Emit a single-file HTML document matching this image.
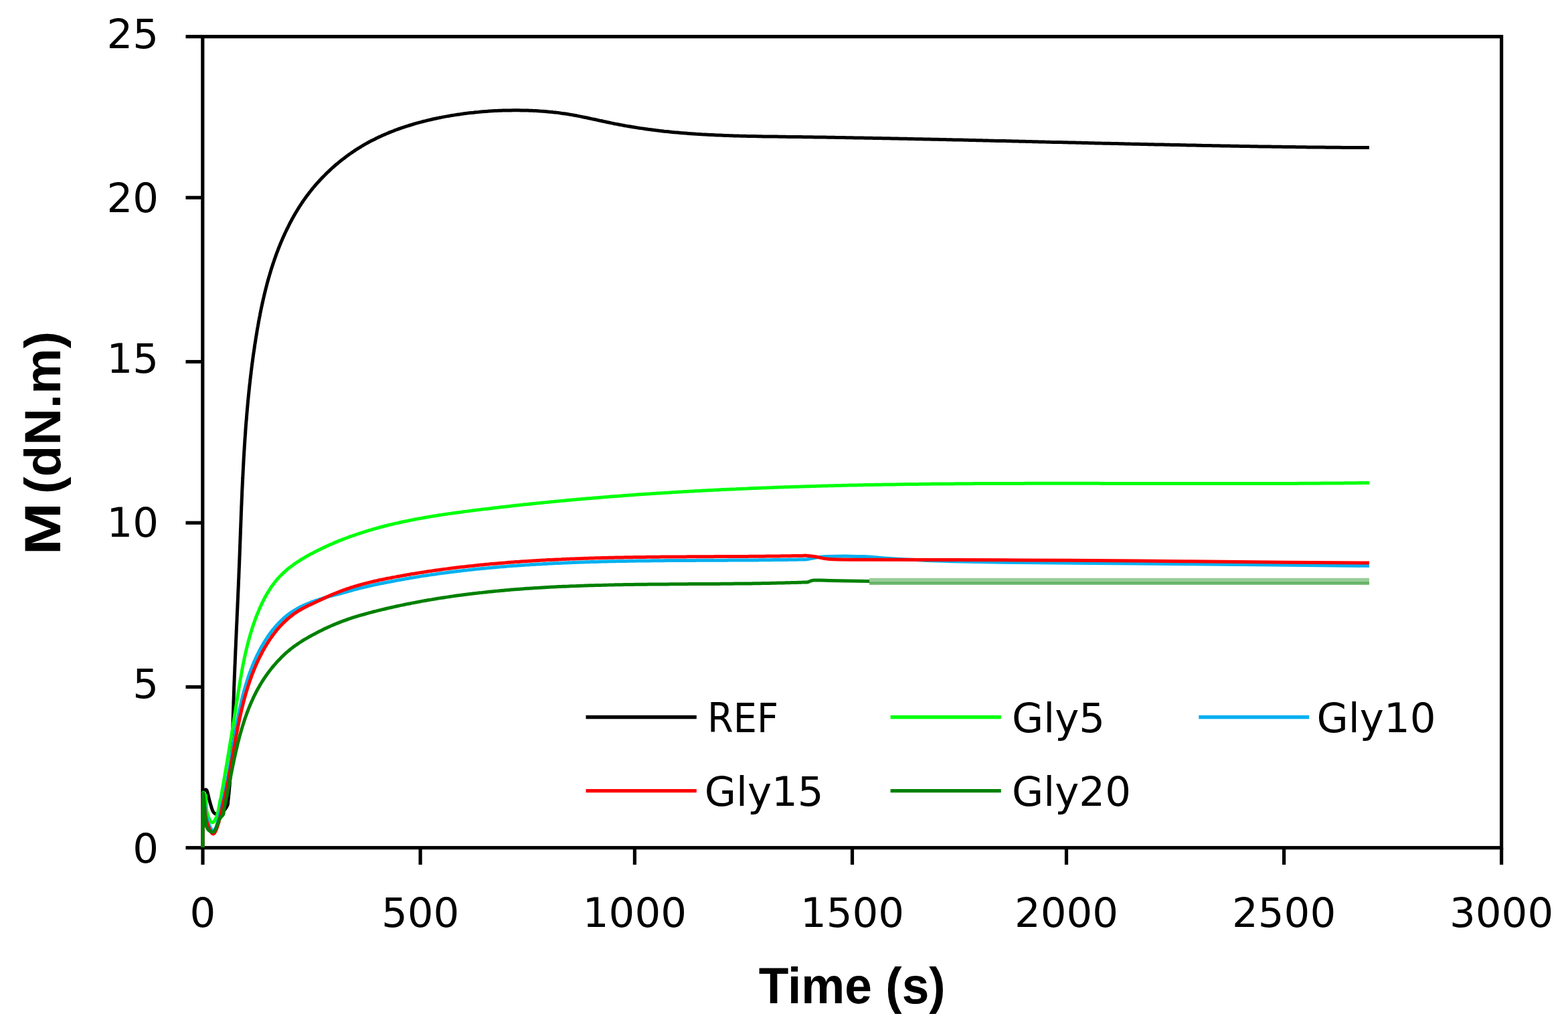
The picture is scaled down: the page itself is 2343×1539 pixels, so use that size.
<!DOCTYPE html>
<html><head><meta charset="utf-8"><title>Chart</title>
<style>html,body{margin:0;padding:0;background:#fff;overflow:hidden}svg{display:block}</style>
</head><body>
<svg width="2343" height="1539" viewBox="0 0 2343 1539"><rect x="0" y="0" width="2343" height="1539" fill="#fff"/><rect x="302.8" y="54.7" width="1940.8" height="1212.0" fill="none" stroke="#000" stroke-width="5.2"/><line x1="277.5" y1="54.7" x2="302.8" y2="54.7" stroke="#000" stroke-width="5.2"/><line x1="277.5" y1="295.3" x2="302.8" y2="295.3" stroke="#000" stroke-width="5.2"/><line x1="277.5" y1="540.5" x2="302.8" y2="540.5" stroke="#000" stroke-width="5.2"/><line x1="277.5" y1="781.2" x2="302.8" y2="781.2" stroke="#000" stroke-width="5.2"/><line x1="277.5" y1="1026.4" x2="302.8" y2="1026.4" stroke="#000" stroke-width="5.2"/><line x1="277.5" y1="1266.7" x2="302.8" y2="1266.7" stroke="#000" stroke-width="5.2"/><line x1="303.0" y1="1266.7" x2="303.0" y2="1292" stroke="#000" stroke-width="5.2"/><line x1="628.1" y1="1266.7" x2="628.1" y2="1292" stroke="#000" stroke-width="5.2"/><line x1="948.4" y1="1266.7" x2="948.4" y2="1292" stroke="#000" stroke-width="5.2"/><line x1="1273.5" y1="1266.7" x2="1273.5" y2="1292" stroke="#000" stroke-width="5.2"/><line x1="1593.5" y1="1266.7" x2="1593.5" y2="1292" stroke="#000" stroke-width="5.2"/><line x1="1918.6" y1="1266.7" x2="1918.6" y2="1292" stroke="#000" stroke-width="5.2"/><line x1="2243.6" y1="1266.7" x2="2243.6" y2="1292" stroke="#000" stroke-width="5.2"/><path d="M303.0,1266.0 C303.0,1253.3 303.0,1204.0 303.2,1190.0 C303.4,1176.0 303.0,1183.5 304.0,1182.0 C305.0,1180.5 307.5,1178.7 309.0,1181.0 C310.5,1183.3 311.5,1190.8 313.0,1196.0 C314.5,1201.2 316.3,1208.6 318.0,1212.0 C319.7,1215.4 321.0,1216.2 323.0,1216.5 C325.0,1216.8 327.8,1215.2 330.0,1214.0 C332.2,1212.8 334.3,1211.3 336.0,1209.5 C337.7,1207.7 339.2,1204.7 340.0,1203.0 C340.8,1201.3 340.4,1200.4 340.6,1199.0 C340.8,1197.7 340.9,1196.4 341.0,1195.1 C341.2,1193.7 341.3,1192.4 341.5,1191.1 C341.6,1189.7 341.7,1188.4 341.9,1187.1 C342.0,1185.8 342.1,1184.4 342.2,1183.1 C342.4,1181.8 342.5,1180.4 342.6,1179.1 C342.7,1177.8 342.8,1176.5 343.0,1175.1 C343.1,1173.8 343.2,1172.5 343.3,1171.1 C343.4,1169.8 343.5,1168.5 343.6,1167.1 C343.7,1165.8 343.8,1164.5 343.9,1163.1 C344.0,1161.8 344.1,1160.5 344.2,1159.1 C344.3,1157.8 344.4,1156.5 344.5,1155.2 C344.6,1153.8 344.7,1152.5 344.8,1151.2 C344.8,1149.8 344.9,1148.5 345.0,1147.2 C345.1,1145.8 345.2,1144.5 345.3,1143.2 C345.3,1141.8 345.4,1140.5 345.5,1139.2 C345.6,1137.8 345.6,1136.5 345.7,1135.2 C345.8,1133.8 345.8,1132.5 345.9,1131.2 C346.0,1129.8 346.1,1128.5 346.1,1127.2 C346.2,1125.8 346.2,1124.5 346.3,1123.2 C346.4,1121.8 346.4,1120.5 346.5,1119.1 C346.6,1117.8 346.6,1116.5 346.7,1115.1 C346.7,1113.8 346.8,1112.5 346.8,1111.1 C346.9,1109.8 347.0,1108.5 347.0,1107.1 C347.1,1105.8 347.1,1104.5 347.2,1103.1 C347.2,1101.8 347.3,1100.5 347.3,1099.1 C347.4,1097.8 347.4,1096.5 347.5,1095.1 C347.5,1093.8 347.6,1092.5 347.6,1091.1 C347.7,1089.8 347.7,1088.5 347.7,1087.1 C347.8,1085.8 347.8,1084.5 347.9,1083.1 C347.9,1081.8 348.0,1080.4 348.0,1079.1 C348.1,1077.8 348.1,1076.4 348.1,1075.1 C348.2,1073.8 348.2,1072.4 348.3,1071.1 C348.3,1069.8 348.4,1068.4 348.4,1067.1 C348.4,1065.8 348.5,1064.4 348.5,1063.1 C348.6,1061.8 348.6,1060.4 348.7,1059.1 C348.7,1057.8 348.7,1056.4 348.8,1055.1 C348.8,1053.8 348.9,1052.4 348.9,1051.1 C349.0,1049.7 349.0,1048.4 349.0,1047.1 C349.1,1045.7 349.1,1044.4 349.2,1043.1 C349.2,1041.7 349.3,1040.4 349.3,1039.1 C349.4,1037.7 349.4,1036.4 349.5,1035.1 C349.5,1033.7 349.6,1032.4 349.6,1031.1 C349.6,1029.7 349.7,1028.4 349.7,1027.1 C349.8,1025.7 349.8,1024.4 349.9,1023.1 C349.9,1021.7 350.0,1020.4 350.0,1019.1 C350.1,1017.7 350.1,1016.4 350.2,1015.0 C350.2,1013.7 350.3,1012.4 350.3,1011.0 C350.4,1009.7 350.5,1008.4 350.5,1007.0 C350.6,1005.7 350.6,1004.4 350.7,1003.0 C350.7,1001.7 350.8,1000.4 350.8,999.0 C350.9,997.7 350.9,996.4 351.0,995.0 C351.0,993.7 351.1,992.4 351.2,991.0 C351.2,989.7 351.3,988.4 351.3,987.0 C351.4,985.7 351.4,984.4 351.5,983.0 C351.5,981.7 351.6,980.4 351.7,979.0 C351.7,977.7 351.8,976.4 351.8,975.0 C351.9,973.7 351.9,972.3 352.0,971.0 C352.1,969.7 352.1,968.3 352.2,967.0 C352.2,965.7 352.3,964.3 352.4,963.0 C352.4,961.7 352.5,960.3 352.5,959.0 C352.6,957.7 352.6,956.3 352.7,955.0 C352.8,953.7 352.8,952.3 352.9,951.0 C352.9,949.7 353.0,948.3 353.1,947.0 C353.1,945.7 353.2,944.3 353.2,943.0 C353.3,941.7 353.4,940.3 353.4,939.0 C353.5,937.7 353.5,936.3 353.6,935.0 C353.7,933.7 353.7,932.3 353.8,931.0 C353.8,929.7 353.9,928.3 354.0,927.0 C354.0,925.7 354.1,924.3 354.1,923.0 C354.2,921.7 354.3,920.3 354.3,919.0 C354.4,917.6 354.4,916.3 354.5,915.0 C354.6,913.6 354.6,912.3 354.7,911.0 C354.7,909.6 354.8,908.3 354.9,907.0 C354.9,905.6 355.0,904.3 355.0,903.0 C355.1,901.6 355.2,900.3 355.2,899.0 C355.3,897.6 355.3,896.3 355.4,895.0 C355.4,893.6 355.5,892.3 355.6,891.0 C355.6,889.6 355.7,888.3 355.7,887.0 C355.8,885.6 355.9,884.3 355.9,883.0 C356.0,881.6 356.0,880.3 356.1,879.0 C356.1,877.6 356.2,876.3 356.3,875.0 C356.3,873.6 356.4,872.3 356.4,871.0 C356.5,869.6 356.5,868.3 356.6,866.9 C356.6,865.6 356.7,864.3 356.8,862.9 C356.8,861.6 356.9,860.3 356.9,858.9 C357.0,857.6 357.0,856.3 357.1,854.9 C357.1,853.6 357.2,852.3 357.2,850.9 C357.3,849.6 357.4,848.3 357.4,846.9 C357.5,845.6 357.5,844.3 357.6,842.9 C357.6,841.6 357.7,840.3 357.7,838.9 C357.8,837.6 357.8,836.3 357.9,834.9 C357.9,833.6 358.0,832.3 358.0,830.9 C358.1,829.6 358.1,828.3 358.2,826.9 C358.2,825.6 358.3,824.2 358.3,822.9 C358.4,821.6 358.4,820.2 358.5,818.9 C358.5,817.6 358.6,816.2 358.6,814.9 C358.7,813.6 358.7,812.2 358.8,810.9 C358.8,809.6 358.9,808.2 358.9,806.9 C359.0,805.6 359.0,804.2 359.1,802.9 C359.1,801.6 359.2,800.2 359.2,798.9 C359.3,797.6 359.3,796.2 359.4,794.9 C359.4,793.6 359.5,792.2 359.5,790.9 C359.6,789.5 359.6,788.2 359.7,786.9 C359.7,785.5 359.8,784.2 359.8,782.9 C359.9,781.5 359.9,780.2 360.0,778.9 C360.0,777.5 360.1,776.2 360.1,774.9 C360.2,773.5 360.2,772.2 360.3,770.9 C360.3,769.5 360.4,768.2 360.4,766.9 C360.5,765.5 360.5,764.2 360.6,762.9 C360.6,761.5 360.7,760.2 360.7,758.9 C360.8,757.5 360.8,756.2 360.9,754.9 C361.0,753.5 361.0,752.2 361.1,750.8 C361.1,749.5 361.2,748.2 361.2,746.8 C361.3,745.5 361.3,744.2 361.4,742.8 C361.5,741.5 361.5,740.2 361.6,738.8 C361.6,737.5 361.7,736.2 361.7,734.8 C361.8,733.5 361.9,732.2 361.9,730.8 C362.0,729.5 362.0,728.2 362.1,726.8 C362.2,725.5 362.2,724.2 362.3,722.8 C362.3,721.5 362.4,720.2 362.5,718.8 C362.5,717.5 362.6,716.2 362.7,714.8 C362.7,713.5 362.8,712.2 362.9,710.8 C362.9,709.5 363.0,708.2 363.1,706.8 C363.1,705.5 363.2,704.2 363.3,702.8 C363.3,701.5 363.4,700.2 363.5,698.8 C363.5,697.5 363.6,696.2 363.7,694.8 C363.8,693.5 363.8,692.2 363.9,690.8 C364.0,689.5 364.0,688.2 364.1,686.8 C364.2,685.5 364.3,684.2 364.3,682.8 C364.4,681.5 364.5,680.2 364.6,678.8 C364.7,677.5 364.7,676.2 364.8,674.8 C364.9,673.5 365.0,672.2 365.1,670.8 C365.1,669.5 365.2,668.2 365.3,666.8 C365.4,665.5 365.5,664.2 365.6,662.8 C365.7,661.5 365.7,660.2 365.8,658.8 C365.9,657.5 366.0,656.2 366.1,654.8 C366.2,653.5 366.3,652.2 366.4,650.8 C366.5,649.5 366.6,648.2 366.7,646.8 C366.7,645.5 366.8,644.2 366.9,642.8 C367.0,641.5 367.1,640.2 367.2,638.8 C367.3,637.5 367.4,636.2 367.5,634.8 C367.6,633.5 367.7,632.2 367.8,630.9 C367.9,629.5 368.1,628.2 368.2,626.9 C368.3,625.5 368.4,624.2 368.5,622.9 C368.6,621.5 368.7,620.2 368.8,618.9 C368.9,617.5 369.0,616.2 369.2,614.9 C369.3,613.6 369.4,612.2 369.5,610.9 C369.6,609.6 369.7,608.2 369.9,606.9 C370.0,605.6 370.1,604.2 370.2,602.9 C370.3,601.6 370.5,600.3 370.6,598.9 C370.7,597.6 370.9,596.3 371.0,594.9 C371.1,593.6 371.2,592.3 371.4,590.9 C371.5,589.6 371.6,588.3 371.8,587.0 C371.9,585.6 372.0,584.3 372.2,583.0 C372.3,581.6 372.5,580.3 372.6,579.0 C372.7,577.7 372.9,576.3 373.0,575.0 C373.2,573.7 373.3,572.4 373.5,571.0 C373.6,569.7 373.8,568.4 373.9,567.0 C374.1,565.7 374.2,564.4 374.4,563.1 C374.5,561.7 374.7,560.4 374.9,559.1 C375.0,557.8 375.2,556.4 375.3,555.1 C375.5,553.8 375.7,552.5 375.8,551.1 C376.0,549.8 376.2,548.5 376.3,547.2 C376.5,545.8 376.7,544.5 376.8,543.2 C377.0,541.9 377.2,540.5 377.4,539.2 C377.5,537.9 377.7,536.6 377.9,535.2 C378.1,533.9 378.3,532.6 378.4,531.3 C378.6,529.9 378.8,528.6 379.0,527.3 C379.2,526.0 379.4,524.7 379.6,523.3 C379.8,522.0 380.0,520.7 380.2,519.4 C380.4,518.1 380.5,516.7 380.7,515.4 C380.9,514.1 381.2,512.8 381.4,511.5 C381.6,510.1 381.8,508.8 382.0,507.5 C382.2,506.2 382.4,504.9 382.6,503.5 C382.8,502.2 383.0,500.9 383.3,499.6 C383.5,498.3 383.7,496.9 383.9,495.6 C384.1,494.3 384.4,493.0 384.6,491.7 C384.8,490.4 385.0,489.0 385.3,487.7 C385.5,486.4 385.7,485.1 386.0,483.8 C386.2,482.5 386.4,481.2 386.7,479.8 C386.9,478.5 387.2,477.2 387.4,475.9 C387.7,474.6 387.9,473.3 388.2,472.0 C388.4,470.7 388.7,469.4 388.9,468.0 C389.2,466.7 389.5,465.4 389.7,464.1 C390.0,462.8 390.3,461.5 390.5,460.2 C390.8,458.9 391.1,457.6 391.4,456.3 C391.6,455.0 391.9,453.7 392.2,452.4 C392.5,451.1 392.8,449.7 393.1,448.4 C393.4,447.1 393.7,445.8 394.0,444.5 C394.3,443.2 394.6,441.9 394.9,440.6 C395.2,439.3 395.5,438.0 395.8,436.7 C396.2,435.4 396.5,434.1 396.8,432.9 C397.1,431.6 397.5,430.3 397.8,429.0 C398.1,427.7 398.5,426.4 398.8,425.1 C399.1,423.8 399.5,422.5 399.8,421.2 C400.2,419.9 400.5,418.6 400.9,417.4 C401.3,416.1 401.6,414.8 402.0,413.5 C402.4,412.2 402.7,410.9 403.1,409.7 C403.5,408.4 403.9,407.1 404.3,405.8 C404.7,404.5 405.0,403.3 405.4,402.0 C405.8,400.7 406.2,399.4 406.7,398.2 C407.1,396.9 407.5,395.6 407.9,394.4 C408.3,393.1 408.7,391.8 409.2,390.6 C409.6,389.3 410.0,388.0 410.5,386.8 C410.9,385.5 411.4,384.3 411.8,383.0 C412.3,381.7 412.7,380.5 413.2,379.2 C413.6,378.0 414.1,376.7 414.6,375.5 C415.1,374.2 415.5,373.0 416.0,371.7 C416.5,370.5 417.0,369.3 417.5,368.0 C418.0,366.8 418.5,365.5 419.0,364.3 C419.5,363.1 420.0,361.8 420.5,360.6 C421.1,359.4 421.6,358.2 422.1,356.9 C422.7,355.7 423.2,354.5 423.7,353.3 C424.3,352.0 424.8,350.8 425.4,349.6 C425.9,348.4 426.5,347.2 427.1,346.0 C427.7,344.8 428.2,343.6 428.8,342.4 C429.4,341.2 430.0,340.0 430.6,338.8 C431.2,337.6 431.8,336.4 432.4,335.2 C433.0,334.0 433.6,332.8 434.2,331.6 C434.9,330.5 435.5,329.3 436.1,328.1 C436.8,326.9 437.4,325.8 438.1,324.6 C438.7,323.4 439.4,322.3 440.0,321.1 C440.7,320.0 441.4,318.8 442.0,317.6 C442.7,316.5 443.4,315.4 444.1,314.2 C444.8,313.1 445.5,311.9 446.2,310.8 C446.9,309.7 447.6,308.5 448.4,307.4 C449.1,306.3 449.8,305.2 450.5,304.1 C451.3,303.0 452.0,301.8 452.8,300.7 C453.5,299.6 454.3,298.5 455.1,297.5 C455.8,296.4 456.6,295.3 457.4,294.2 C458.2,293.1 459.0,292.1 459.8,291.0 C460.6,289.9 461.4,288.9 462.2,287.8 C463.1,286.7 463.9,285.7 464.7,284.7 C465.5,283.6 466.4,282.6 467.2,281.5 C468.1,280.5 468.9,279.5 469.8,278.5 C470.7,277.5 471.6,276.4 472.4,275.4 C473.3,274.4 474.2,273.4 475.1,272.4 C476.0,271.5 476.9,270.5 477.8,269.5 C478.7,268.5 479.6,267.5 480.5,266.6 C481.5,265.6 482.4,264.6 483.3,263.7 C484.3,262.7 485.2,261.8 486.1,260.8 C487.1,259.9 488.0,259.0 489.0,258.0 C490.0,257.1 490.9,256.2 491.9,255.3 C492.9,254.4 493.9,253.4 494.8,252.5 C495.8,251.6 496.8,250.8 497.8,249.9 C498.8,249.0 499.8,248.1 500.8,247.2 C501.8,246.3 502.8,245.5 503.9,244.6 C504.9,243.8 505.9,242.9 507.0,242.1 C508.0,241.2 509.0,240.4 510.1,239.5 C511.1,238.7 512.2,237.9 513.2,237.1 C514.3,236.3 515.3,235.5 516.4,234.7 C517.5,233.9 518.6,233.1 519.6,232.3 C520.7,231.5 521.8,230.7 522.9,229.9 C524.0,229.2 525.1,228.4 526.2,227.7 C527.3,226.9 528.4,226.1 529.5,225.4 C530.6,224.7 531.7,223.9 532.9,223.2 C534.0,222.5 535.1,221.8 536.2,221.1 C537.4,220.4 538.5,219.7 539.7,219.0 C540.8,218.3 542.0,217.6 543.1,216.9 C544.3,216.3 545.4,215.6 546.6,214.9 C547.7,214.3 548.9,213.6 550.1,213.0 C551.3,212.4 552.4,211.7 553.6,211.1 C554.8,210.5 556.0,209.9 557.2,209.3 C558.4,208.7 559.6,208.1 560.8,207.5 C562.0,206.9 563.2,206.3 564.4,205.7 C565.6,205.1 566.8,204.6 568.0,204.0 C569.2,203.5 570.4,202.9 571.6,202.4 C572.8,201.8 574.1,201.3 575.3,200.7 C576.5,200.2 577.8,199.7 579.0,199.2 C580.2,198.7 581.5,198.1 582.7,197.6 C583.9,197.1 585.2,196.7 586.4,196.2 C587.7,195.7 588.9,195.2 590.2,194.7 C591.4,194.3 592.7,193.8 593.9,193.3 C595.2,192.9 596.4,192.4 597.7,192.0 C598.9,191.5 600.2,191.1 601.5,190.7 C602.7,190.2 604.0,189.8 605.3,189.4 C606.5,189.0 607.8,188.6 609.1,188.2 C610.3,187.8 611.6,187.4 612.9,187.0 C614.2,186.6 615.5,186.2 616.7,185.8 C618.0,185.4 619.3,185.1 620.6,184.7 C621.9,184.3 623.2,184.0 624.4,183.6 C625.7,183.2 627.0,182.9 628.3,182.6 C629.6,182.2 630.9,181.9 632.2,181.5 C633.5,181.2 634.8,180.9 636.1,180.6 C637.4,180.2 638.7,179.9 640.0,179.6 C641.3,179.3 642.6,179.0 643.9,178.7 C645.2,178.4 646.5,178.1 647.8,177.8 C649.1,177.5 650.4,177.2 651.7,177.0 C653.0,176.7 654.3,176.4 655.6,176.1 C656.9,175.9 658.2,175.6 659.5,175.4 C660.8,175.1 662.2,174.8 663.5,174.6 C664.8,174.3 666.1,174.1 667.4,173.9 C668.7,173.6 670.0,173.4 671.3,173.2 C672.7,172.9 674.0,172.7 675.3,172.5 C676.6,172.3 677.9,172.1 679.3,171.9 C680.6,171.6 681.9,171.4 683.2,171.2 C684.5,171.0 685.9,170.8 687.2,170.7 C688.5,170.5 689.8,170.3 691.1,170.1 C692.5,169.9 693.8,169.7 695.1,169.6 C696.4,169.4 697.8,169.2 699.1,169.1 C700.4,168.9 701.7,168.7 703.1,168.6 C704.4,168.4 705.7,168.3 707.1,168.2 C708.4,168.0 709.7,167.9 711.0,167.7 C712.4,167.6 713.7,167.5 715.0,167.4 C716.4,167.2 717.7,167.1 719.0,167.0 C720.3,166.9 721.7,166.8 723.0,166.7 C724.3,166.6 725.7,166.5 727.0,166.4 C728.3,166.3 729.7,166.2 731.0,166.1 C732.3,166.0 733.7,165.9 735.0,165.8 C736.3,165.8 737.7,165.7 739.0,165.6 C740.3,165.5 741.7,165.5 743.0,165.4 C744.3,165.4 745.7,165.3 747.0,165.3 C748.3,165.2 749.7,165.2 751.0,165.1 C752.3,165.1 753.7,165.0 755.0,165.0 C756.3,165.0 757.7,164.9 759.0,164.9 C760.4,164.9 761.7,164.9 763.0,164.9 C764.4,164.8 765.7,164.8 767.0,164.8 C768.4,164.8 769.7,164.8 771.0,164.8 C772.4,164.8 773.7,164.8 775.0,164.8 C776.4,164.8 777.7,164.8 779.0,164.9 C780.4,164.9 781.7,164.9 783.1,164.9 C784.4,165.0 785.7,165.0 787.1,165.0 C788.4,165.1 789.7,165.1 791.1,165.2 C792.4,165.2 793.7,165.3 795.1,165.3 C796.4,165.4 797.7,165.4 799.1,165.5 C800.4,165.6 801.7,165.6 803.1,165.7 C804.4,165.8 805.7,165.9 807.1,166.0 C808.4,166.0 809.7,166.1 811.1,166.2 C812.4,166.3 813.7,166.4 815.1,166.5 C816.4,166.7 817.7,166.8 819.1,166.9 C820.4,167.0 821.7,167.1 823.0,167.3 C824.4,167.4 825.7,167.5 827.0,167.7 C828.4,167.8 829.7,168.0 831.0,168.1 C832.3,168.3 833.7,168.5 835.0,168.6 C836.3,168.8 837.6,169.0 839.0,169.2 C840.3,169.3 841.6,169.5 842.9,169.7 C844.2,169.9 845.6,170.1 846.9,170.3 C848.2,170.5 849.5,170.7 850.8,171.0 C852.2,171.2 853.5,171.4 854.8,171.6 C856.1,171.9 857.4,172.1 858.7,172.4 C860.0,172.6 861.4,172.8 862.7,173.1 C864.0,173.3 865.3,173.6 866.6,173.9 C867.9,174.1 869.2,174.4 870.5,174.7 C871.8,174.9 873.1,175.2 874.4,175.5 C875.8,175.7 877.1,176.0 878.4,176.3 C879.7,176.6 881.0,176.8 882.3,177.1 C883.6,177.4 884.9,177.7 886.2,178.0 C887.5,178.2 888.8,178.5 890.1,178.8 C891.4,179.1 892.7,179.4 894.0,179.7 C895.3,180.0 896.6,180.2 897.9,180.5 C899.3,180.8 900.6,181.1 901.9,181.4 C903.2,181.7 904.5,181.9 905.8,182.2 C907.1,182.5 908.4,182.8 909.7,183.0 C911.0,183.3 912.3,183.6 913.6,183.9 C914.9,184.1 916.2,184.4 917.5,184.7 C918.9,184.9 920.2,185.2 921.5,185.4 C922.8,185.7 924.1,185.9 925.4,186.2 C926.7,186.4 928.0,186.7 929.3,186.9 C930.7,187.2 932.0,187.4 933.3,187.7 C934.6,187.9 935.9,188.1 937.2,188.4 C938.5,188.6 939.9,188.8 941.2,189.0 C942.5,189.3 943.8,189.5 945.1,189.7 C946.5,189.9 947.8,190.1 949.1,190.3 C950.4,190.5 951.7,190.8 953.0,191.0 C954.4,191.2 955.7,191.4 957.0,191.6 C958.3,191.8 959.6,192.0 961.0,192.1 C962.3,192.3 963.6,192.5 964.9,192.7 C966.3,192.9 967.6,193.1 968.9,193.3 C970.2,193.4 971.6,193.6 972.9,193.8 C974.2,194.0 975.5,194.1 976.9,194.3 C978.2,194.5 979.5,194.6 980.8,194.8 C982.2,194.9 983.5,195.1 984.8,195.3 C986.1,195.4 987.5,195.6 988.8,195.7 C990.1,195.9 991.4,196.0 992.8,196.2 C994.1,196.3 995.4,196.4 996.8,196.6 C998.1,196.7 999.4,196.9 1000.7,197.0 C1002.1,197.1 1003.4,197.3 1004.7,197.4 C1006.1,197.5 1007.4,197.6 1008.7,197.8 C1010.0,197.9 1011.4,198.0 1012.7,198.1 C1014.0,198.2 1015.4,198.4 1016.7,198.5 C1018.0,198.6 1019.4,198.7 1020.7,198.8 C1022.0,198.9 1023.4,199.0 1024.7,199.1 C1026.0,199.2 1027.3,199.3 1028.7,199.4 C1030.0,199.5 1031.3,199.6 1032.7,199.7 C1034.0,199.8 1035.3,199.9 1036.7,200.0 C1038.0,200.1 1039.3,200.2 1040.7,200.3 C1042.0,200.3 1043.3,200.4 1044.7,200.5 C1046.0,200.6 1047.3,200.7 1048.7,200.8 C1050.0,200.8 1051.3,200.9 1052.7,201.0 C1054.0,201.1 1055.3,201.1 1056.7,201.2 C1058.0,201.3 1059.3,201.3 1060.7,201.4 C1062.0,201.5 1063.3,201.5 1064.7,201.6 C1066.0,201.7 1067.3,201.7 1068.7,201.8 C1070.0,201.9 1071.3,201.9 1072.7,202.0 C1074.0,202.0 1075.3,202.1 1076.7,202.1 C1078.0,202.2 1079.3,202.2 1080.7,202.3 C1082.0,202.4 1083.3,202.4 1084.7,202.5 C1086.0,202.5 1087.4,202.5 1088.7,202.6 C1090.0,202.6 1091.4,202.7 1092.7,202.7 C1094.0,202.8 1095.4,202.8 1096.7,202.9 C1098.0,202.9 1099.4,202.9 1100.7,203.0 C1102.0,203.0 1103.4,203.0 1104.7,203.1 C1106.0,203.1 1107.4,203.2 1108.7,203.2 C1110.0,203.2 1111.4,203.3 1112.7,203.3 C1114.0,203.3 1115.4,203.4 1116.7,203.4 C1118.1,203.4 1119.4,203.4 1120.7,203.5 C1122.1,203.5 1123.4,203.5 1124.7,203.6 C1126.1,203.6 1127.4,203.6 1128.7,203.6 C1130.1,203.7 1131.4,203.7 1132.7,203.7 C1134.1,203.7 1135.4,203.8 1136.7,203.8 C1138.1,203.8 1139.4,203.8 1140.8,203.9 C1142.1,203.9 1143.4,203.9 1144.8,203.9 C1146.1,203.9 1147.4,204.0 1148.8,204.0 C1150.1,204.0 1151.4,204.0 1152.8,204.0 C1154.1,204.1 1155.4,204.1 1156.8,204.1 C1158.1,204.1 1159.4,204.1 1160.8,204.1 C1162.1,204.2 1163.5,204.2 1164.8,204.2 C1166.1,204.2 1167.5,204.2 1168.8,204.3 C1170.1,204.3 1171.5,204.3 1172.8,204.3 C1174.1,204.3 1175.5,204.3 1176.8,204.4 C1178.1,204.4 1179.5,204.4 1180.8,204.4 C1182.1,204.4 1183.5,204.4 1184.8,204.5 C1186.2,204.5 1187.5,204.5 1188.8,204.5 C1190.2,204.5 1191.5,204.5 1192.8,204.6 C1194.2,204.6 1195.5,204.6 1196.8,204.6 C1198.2,204.6 1199.5,204.6 1200.8,204.7 C1202.2,204.7 1203.5,204.7 1204.9,204.7 C1206.2,204.7 1207.5,204.8 1208.9,204.8 C1210.2,204.8 1211.5,204.8 1212.9,204.8 C1214.2,204.9 1215.5,204.9 1216.9,204.9 C1218.2,204.9 1219.5,204.9 1220.9,205.0 C1222.2,205.0 1223.5,205.0 1224.9,205.0 C1226.2,205.0 1227.6,205.1 1228.9,205.1 C1230.2,205.1 1231.6,205.1 1232.9,205.1 C1234.2,205.2 1235.6,205.2 1236.9,205.2 C1238.2,205.2 1239.6,205.2 1240.9,205.3 C1242.2,205.3 1243.6,205.3 1244.9,205.3 C1246.2,205.3 1247.6,205.4 1248.9,205.4 C1250.3,205.4 1251.6,205.4 1252.9,205.5 C1254.3,205.5 1255.6,205.5 1256.9,205.5 C1258.3,205.5 1259.6,205.6 1260.9,205.6 C1262.3,205.6 1263.6,205.6 1264.9,205.7 C1266.3,205.7 1267.6,205.7 1268.9,205.7 C1270.3,205.7 1271.6,205.8 1273.0,205.8 C1274.3,205.8 1275.6,205.8 1277.0,205.9 C1278.3,205.9 1279.6,205.9 1281.0,205.9 C1282.3,206.0 1283.6,206.0 1285.0,206.0 C1286.3,206.0 1287.6,206.1 1289.0,206.1 C1290.3,206.1 1291.6,206.1 1293.0,206.2 C1294.3,206.2 1295.7,206.2 1297.0,206.2 C1298.3,206.3 1299.7,206.3 1301.0,206.3 C1302.3,206.3 1303.7,206.4 1305.0,206.4 C1306.3,206.4 1307.7,206.4 1309.0,206.5 C1310.3,206.5 1311.7,206.5 1313.0,206.5 C1314.3,206.6 1315.7,206.6 1317.0,206.6 C1318.3,206.6 1319.7,206.7 1321.0,206.7 C1322.4,206.7 1323.7,206.7 1325.0,206.8 C1326.4,206.8 1327.7,206.8 1329.0,206.8 C1330.4,206.9 1331.7,206.9 1333.0,206.9 C1334.4,206.9 1335.7,207.0 1337.0,207.0 C1338.4,207.0 1339.7,207.1 1341.0,207.1 C1342.4,207.1 1343.7,207.1 1345.1,207.2 C1346.4,207.2 1347.7,207.2 1349.1,207.2 C1350.4,207.3 1351.7,207.3 1353.1,207.3 C1354.4,207.3 1355.7,207.4 1357.1,207.4 C1358.4,207.4 1359.7,207.5 1361.1,207.5 C1362.4,207.5 1363.7,207.5 1365.1,207.6 C1366.4,207.6 1367.8,207.6 1369.1,207.7 C1370.4,207.7 1371.8,207.7 1373.1,207.7 C1374.4,207.8 1375.8,207.8 1377.1,207.8 C1378.4,207.9 1379.8,207.9 1381.1,207.9 C1382.4,207.9 1383.8,208.0 1385.1,208.0 C1386.4,208.0 1387.8,208.1 1389.1,208.1 C1390.5,208.1 1391.8,208.1 1393.1,208.2 C1394.5,208.2 1395.8,208.2 1397.1,208.3 C1398.5,208.3 1399.8,208.3 1401.1,208.3 C1402.5,208.4 1403.8,208.4 1405.1,208.4 C1406.5,208.5 1407.8,208.5 1409.1,208.5 C1410.5,208.5 1411.8,208.6 1413.1,208.6 C1414.5,208.6 1415.8,208.7 1417.2,208.7 C1418.5,208.7 1419.8,208.8 1421.2,208.8 C1422.5,208.8 1423.8,208.8 1425.2,208.9 C1426.5,208.9 1427.8,208.9 1429.2,209.0 C1430.5,209.0 1431.8,209.0 1433.2,209.1 C1434.5,209.1 1435.8,209.1 1437.2,209.1 C1438.5,209.2 1439.9,209.2 1441.2,209.2 C1442.5,209.3 1443.9,209.3 1445.2,209.3 C1446.5,209.4 1447.9,209.4 1449.2,209.4 C1450.5,209.5 1451.9,209.5 1453.2,209.5 C1454.5,209.5 1455.9,209.6 1457.2,209.6 C1458.5,209.6 1459.9,209.7 1461.2,209.7 C1462.5,209.7 1463.9,209.8 1465.2,209.8 C1466.6,209.8 1467.9,209.9 1469.2,209.9 C1470.6,209.9 1471.9,209.9 1473.2,210.0 C1474.6,210.0 1475.9,210.0 1477.2,210.1 C1478.6,210.1 1479.9,210.1 1481.2,210.2 C1482.6,210.2 1483.9,210.2 1485.2,210.3 C1486.6,210.3 1487.9,210.3 1489.2,210.4 C1490.6,210.4 1491.9,210.4 1493.3,210.4 C1494.6,210.5 1495.9,210.5 1497.3,210.5 C1498.6,210.6 1499.9,210.6 1501.3,210.6 C1502.6,210.7 1503.9,210.7 1505.3,210.7 C1506.6,210.8 1507.9,210.8 1509.3,210.8 C1510.6,210.9 1511.9,210.9 1513.3,210.9 C1514.6,211.0 1516.0,211.0 1517.3,211.0 C1518.6,211.1 1520.0,211.1 1521.3,211.1 C1522.6,211.1 1524.0,211.2 1525.3,211.2 C1526.6,211.2 1528.0,211.3 1529.3,211.3 C1530.6,211.3 1532.0,211.4 1533.3,211.4 C1534.6,211.4 1536.0,211.5 1537.3,211.5 C1538.6,211.5 1540.0,211.6 1541.3,211.6 C1542.7,211.6 1544.0,211.7 1545.3,211.7 C1546.7,211.7 1548.0,211.8 1549.3,211.8 C1550.7,211.8 1552.0,211.8 1553.3,211.9 C1554.7,211.9 1556.0,211.9 1557.3,212.0 C1558.7,212.0 1560.0,212.0 1561.3,212.1 C1562.7,212.1 1564.0,212.1 1565.4,212.2 C1566.7,212.2 1568.0,212.2 1569.4,212.3 C1570.7,212.3 1572.0,212.3 1573.4,212.4 C1574.7,212.4 1576.0,212.4 1577.4,212.5 C1578.7,212.5 1580.0,212.5 1581.4,212.5 C1582.7,212.6 1584.0,212.6 1585.4,212.6 C1586.7,212.7 1588.0,212.7 1589.4,212.7 C1590.7,212.8 1592.1,212.8 1593.4,212.8 C1594.7,212.9 1596.1,212.9 1597.4,212.9 C1598.7,213.0 1600.1,213.0 1601.4,213.0 C1602.7,213.1 1604.1,213.1 1605.4,213.1 C1606.7,213.2 1608.1,213.2 1609.4,213.2 C1610.7,213.2 1612.1,213.3 1613.4,213.3 C1614.7,213.3 1616.1,213.4 1617.4,213.4 C1618.8,213.4 1620.1,213.5 1621.4,213.5 C1622.8,213.5 1624.1,213.6 1625.4,213.6 C1626.8,213.6 1628.1,213.7 1629.4,213.7 C1630.8,213.7 1632.1,213.8 1633.4,213.8 C1634.8,213.8 1636.1,213.8 1637.4,213.9 C1638.8,213.9 1640.1,213.9 1641.5,214.0 C1642.8,214.0 1644.1,214.0 1645.5,214.1 C1646.8,214.1 1648.1,214.1 1649.5,214.2 C1650.8,214.2 1652.1,214.2 1653.5,214.3 C1654.8,214.3 1656.1,214.3 1657.5,214.3 C1658.8,214.4 1660.1,214.4 1661.5,214.4 C1662.8,214.5 1664.1,214.5 1665.5,214.5 C1666.8,214.6 1668.2,214.6 1669.5,214.6 C1670.8,214.7 1672.2,214.7 1673.5,214.7 C1674.8,214.7 1676.2,214.8 1677.5,214.8 C1678.8,214.8 1680.2,214.9 1681.5,214.9 C1682.8,214.9 1684.2,215.0 1685.5,215.0 C1686.8,215.0 1688.2,215.0 1689.5,215.1 C1690.9,215.1 1692.2,215.1 1693.5,215.2 C1694.9,215.2 1696.2,215.2 1697.5,215.3 C1698.9,215.3 1700.2,215.3 1701.5,215.3 C1702.9,215.4 1704.2,215.4 1705.5,215.4 C1706.9,215.5 1708.2,215.5 1709.5,215.5 C1710.9,215.6 1712.2,215.6 1713.5,215.6 C1714.9,215.6 1716.2,215.7 1717.6,215.7 C1718.9,215.7 1720.2,215.8 1721.6,215.8 C1722.9,215.8 1724.2,215.9 1725.6,215.9 C1726.9,215.9 1728.2,215.9 1729.6,216.0 C1730.9,216.0 1732.2,216.0 1733.6,216.1 C1734.9,216.1 1736.2,216.1 1737.6,216.1 C1738.9,216.2 1740.3,216.2 1741.6,216.2 C1742.9,216.3 1744.3,216.3 1745.6,216.3 C1746.9,216.3 1748.3,216.4 1749.6,216.4 C1750.9,216.4 1752.3,216.5 1753.6,216.5 C1754.9,216.5 1756.3,216.5 1757.6,216.6 C1758.9,216.6 1760.3,216.6 1761.6,216.6 C1762.9,216.7 1764.3,216.7 1765.6,216.7 C1767.0,216.8 1768.3,216.8 1769.6,216.8 C1771.0,216.8 1772.3,216.9 1773.6,216.9 C1775.0,216.9 1776.3,216.9 1777.6,217.0 C1779.0,217.0 1780.3,217.0 1781.6,217.1 C1783.0,217.1 1784.3,217.1 1785.6,217.1 C1787.0,217.2 1788.3,217.2 1789.7,217.2 C1791.0,217.2 1792.3,217.3 1793.7,217.3 C1795.0,217.3 1796.3,217.3 1797.7,217.4 C1799.0,217.4 1800.3,217.4 1801.7,217.4 C1803.0,217.5 1804.3,217.5 1805.7,217.5 C1807.0,217.6 1808.3,217.6 1809.7,217.6 C1811.0,217.6 1812.4,217.7 1813.7,217.7 C1815.0,217.7 1816.4,217.7 1817.7,217.8 C1819.0,217.8 1820.4,217.8 1821.7,217.8 C1823.0,217.9 1824.4,217.9 1825.7,217.9 C1827.0,217.9 1828.4,218.0 1829.7,218.0 C1831.0,218.0 1832.4,218.0 1833.7,218.0 C1835.1,218.1 1836.4,218.1 1837.7,218.1 C1839.1,218.1 1840.4,218.2 1841.7,218.2 C1843.1,218.2 1844.4,218.2 1845.7,218.3 C1847.1,218.3 1848.4,218.3 1849.7,218.3 C1851.1,218.4 1852.4,218.4 1853.7,218.4 C1855.1,218.4 1856.4,218.4 1857.8,218.5 C1859.1,218.5 1860.4,218.5 1861.8,218.5 C1863.1,218.6 1864.4,218.6 1865.8,218.6 C1867.1,218.6 1868.4,218.6 1869.8,218.7 C1871.1,218.7 1872.4,218.7 1873.8,218.7 C1875.1,218.8 1876.4,218.8 1877.8,218.8 C1879.1,218.8 1880.5,218.8 1881.8,218.9 C1883.1,218.9 1884.5,218.9 1885.8,218.9 C1887.1,218.9 1888.5,219.0 1889.8,219.0 C1891.1,219.0 1892.5,219.0 1893.8,219.0 C1895.1,219.1 1896.5,219.1 1897.8,219.1 C1899.1,219.1 1900.5,219.1 1901.8,219.2 C1903.2,219.2 1904.5,219.2 1905.8,219.2 C1907.2,219.2 1908.5,219.3 1909.8,219.3 C1911.2,219.3 1912.5,219.3 1913.8,219.3 C1915.2,219.4 1916.5,219.4 1917.8,219.4 C1919.2,219.4 1920.5,219.4 1921.8,219.4 C1923.2,219.5 1924.5,219.5 1925.9,219.5 C1927.2,219.5 1928.5,219.5 1929.9,219.6 C1931.2,219.6 1932.5,219.6 1933.9,219.6 C1935.2,219.6 1936.5,219.6 1937.9,219.7 C1939.2,219.7 1940.5,219.7 1941.9,219.7 C1943.2,219.7 1944.5,219.7 1945.9,219.8 C1947.2,219.8 1948.6,219.8 1949.9,219.8 C1951.2,219.8 1952.6,219.8 1953.9,219.9 C1955.2,219.9 1956.6,219.9 1957.9,219.9 C1959.2,219.9 1960.6,219.9 1961.9,219.9 C1963.2,220.0 1964.6,220.0 1965.9,220.0 C1967.2,220.0 1968.6,220.0 1969.9,220.0 C1971.3,220.0 1972.6,220.1 1973.9,220.1 C1975.3,220.1 1976.6,220.1 1977.9,220.1 C1979.3,220.1 1980.6,220.1 1981.9,220.2 C1983.3,220.2 1984.6,220.2 1985.9,220.2 C1987.3,220.2 1988.6,220.2 1990.0,220.2 C1991.3,220.2 1992.6,220.3 1994.0,220.3 C1995.3,220.3 1996.6,220.3 1998.0,220.3 C1999.3,220.3 2000.6,220.3 2002.0,220.3 C2003.3,220.4 2004.6,220.4 2006.0,220.4 C2007.3,220.4 2008.6,220.4 2010.0,220.4 C2011.3,220.4 2012.7,220.4 2014.0,220.4 C2015.3,220.4 2016.7,220.5 2018.0,220.5 C2019.3,220.5 2020.7,220.5 2022.0,220.5 C2023.3,220.5 2024.7,220.5 2026.0,220.5 C2027.3,220.5 2028.7,220.5 2030.0,220.6 C2031.4,220.6 2032.7,220.6 2034.0,220.6 C2035.4,220.6 2036.7,220.6 2038.0,220.6 C2039.4,220.6 2040.7,220.6 2042.0,220.6 C2043.4,220.6 2045.4,220.6 2046.0,220.6" fill="none" stroke="#000" stroke-width="5.0" stroke-linejoin="round" stroke-linecap="butt" opacity="1.0"/><path d="M303.0,1266.0 C303.1,1253.7 303.1,1205.3 303.4,1192.0 C303.6,1178.7 303.8,1186.3 304.5,1186.0 C305.2,1185.7 306.8,1186.0 307.5,1190.0 C308.2,1194.0 307.8,1204.7 308.5,1210.0 C309.2,1215.3 310.6,1218.8 312.0,1222.0 C313.4,1225.2 315.3,1228.7 317.0,1229.0 C318.7,1229.3 320.5,1226.8 322.0,1224.0 C323.5,1221.2 324.8,1216.7 326.0,1212.0 C327.2,1207.3 328.3,1199.3 329.0,1196.0 C329.7,1192.7 329.8,1193.5 330.1,1192.2 C330.3,1190.9 330.5,1189.5 330.8,1188.2 C331.0,1186.9 331.2,1185.6 331.4,1184.3 C331.7,1183.0 331.9,1181.6 332.1,1180.3 C332.4,1179.0 332.6,1177.7 332.8,1176.4 C333.1,1175.1 333.3,1173.7 333.5,1172.4 C333.7,1171.1 334.0,1169.8 334.2,1168.5 C334.4,1167.2 334.7,1165.8 334.9,1164.5 C335.1,1163.2 335.3,1161.9 335.6,1160.6 C335.8,1159.3 336.0,1157.9 336.2,1156.6 C336.5,1155.3 336.7,1154.0 336.9,1152.7 C337.1,1151.3 337.4,1150.0 337.6,1148.7 C337.8,1147.4 338.0,1146.1 338.2,1144.8 C338.5,1143.4 338.7,1142.1 338.9,1140.8 C339.1,1139.5 339.4,1138.2 339.6,1136.8 C339.8,1135.5 340.0,1134.2 340.2,1132.9 C340.5,1131.6 340.7,1130.3 340.9,1128.9 C341.1,1127.6 341.3,1126.3 341.6,1125.0 C341.8,1123.7 342.0,1122.3 342.2,1121.0 C342.4,1119.7 342.7,1118.4 342.9,1117.1 C343.1,1115.7 343.3,1114.4 343.5,1113.1 C343.7,1111.8 344.0,1110.5 344.2,1109.2 C344.4,1107.8 344.6,1106.5 344.8,1105.2 C345.0,1103.9 345.2,1102.6 345.5,1101.2 C345.7,1099.9 345.9,1098.6 346.1,1097.3 C346.3,1096.0 346.5,1094.6 346.7,1093.3 C347.0,1092.0 347.2,1090.7 347.4,1089.4 C347.6,1088.0 347.8,1086.7 348.0,1085.4 C348.2,1084.1 348.4,1082.8 348.6,1081.4 C348.9,1080.1 349.1,1078.8 349.3,1077.5 C349.5,1076.2 349.7,1074.8 349.9,1073.5 C350.1,1072.2 350.3,1070.9 350.5,1069.6 C350.7,1068.2 351.0,1066.9 351.2,1065.6 C351.4,1064.3 351.6,1063.0 351.8,1061.6 C352.0,1060.3 352.2,1059.0 352.4,1057.7 C352.6,1056.4 352.8,1055.0 353.0,1053.7 C353.2,1052.4 353.4,1051.1 353.6,1049.8 C353.8,1048.4 354.1,1047.1 354.3,1045.8 C354.5,1044.5 354.7,1043.1 354.9,1041.8 C355.1,1040.5 355.3,1039.2 355.5,1037.9 C355.7,1036.5 355.9,1035.2 356.1,1033.9 C356.3,1032.6 356.6,1031.3 356.8,1029.9 C357.0,1028.6 357.2,1027.3 357.4,1026.0 C357.6,1024.7 357.8,1023.3 358.1,1022.0 C358.3,1020.7 358.5,1019.4 358.7,1018.1 C358.9,1016.8 359.2,1015.4 359.4,1014.1 C359.6,1012.8 359.8,1011.5 360.1,1010.2 C360.3,1008.9 360.5,1007.5 360.8,1006.2 C361.0,1004.9 361.3,1003.6 361.5,1002.3 C361.7,1001.0 362.0,999.6 362.2,998.3 C362.5,997.0 362.7,995.7 363.0,994.4 C363.2,993.1 363.5,991.8 363.8,990.5 C364.0,989.2 364.3,987.8 364.6,986.5 C364.8,985.2 365.1,983.9 365.4,982.6 C365.7,981.3 366.0,980.0 366.2,978.7 C366.5,977.4 366.8,976.1 367.1,974.8 C367.4,973.5 367.7,972.2 368.0,970.9 C368.3,969.6 368.6,968.3 369.0,967.0 C369.3,965.7 369.6,964.4 369.9,963.1 C370.3,961.8 370.6,960.5 370.9,959.2 C371.3,957.9 371.6,956.6 372.0,955.3 C372.3,954.0 372.7,952.7 373.1,951.5 C373.4,950.2 373.8,948.9 374.2,947.6 C374.5,946.3 374.9,945.0 375.3,943.8 C375.7,942.5 376.1,941.2 376.5,939.9 C376.9,938.7 377.3,937.4 377.7,936.1 C378.2,934.9 378.6,933.6 379.0,932.3 C379.4,931.1 379.9,929.8 380.3,928.5 C380.8,927.3 381.2,926.0 381.7,924.8 C382.2,923.5 382.6,922.3 383.1,921.0 C383.6,919.8 384.1,918.5 384.6,917.3 C385.1,916.0 385.6,914.8 386.1,913.6 C386.6,912.3 387.1,911.1 387.6,909.9 C388.2,908.6 388.7,907.4 389.3,906.2 C389.8,905.0 390.4,903.8 390.9,902.6 C391.5,901.3 392.1,900.1 392.7,898.9 C393.3,897.7 393.9,896.6 394.5,895.4 C395.1,894.2 395.7,893.0 396.4,891.8 C397.0,890.7 397.7,889.5 398.3,888.3 C399.0,887.2 399.7,886.0 400.4,884.9 C401.1,883.7 401.8,882.6 402.5,881.5 C403.2,880.3 403.9,879.2 404.7,878.1 C405.4,877.0 406.2,875.9 407.0,874.8 C407.8,873.7 408.6,872.7 409.4,871.6 C410.2,870.5 411.0,869.5 411.8,868.5 C412.7,867.4 413.5,866.4 414.4,865.4 C415.3,864.4 416.2,863.4 417.1,862.4 C418.0,861.4 418.9,860.4 419.9,859.5 C420.8,858.5 421.8,857.6 422.7,856.7 C423.7,855.8 424.7,854.9 425.7,854.0 C426.7,853.1 427.7,852.2 428.7,851.3 C429.7,850.5 430.8,849.6 431.8,848.8 C432.9,848.0 433.9,847.2 435.0,846.4 C436.1,845.5 437.1,844.8 438.2,844.0 C439.3,843.2 440.4,842.4 441.5,841.7 C442.6,840.9 443.7,840.2 444.8,839.4 C445.9,838.7 447.1,838.0 448.2,837.3 C449.3,836.6 450.5,835.9 451.6,835.2 C452.8,834.5 453.9,833.8 455.1,833.1 C456.2,832.4 457.4,831.8 458.5,831.1 C459.7,830.5 460.9,829.8 462.0,829.2 C463.2,828.5 464.4,827.9 465.6,827.3 C466.8,826.6 467.9,826.0 469.1,825.4 C470.3,824.8 471.5,824.2 472.7,823.6 C473.9,823.0 475.1,822.4 476.3,821.8 C477.5,821.2 478.7,820.6 479.9,820.0 C481.1,819.4 482.3,818.8 483.5,818.3 C484.7,817.7 485.9,817.1 487.1,816.6 C488.3,816.0 489.6,815.5 490.8,814.9 C492.0,814.4 493.2,813.8 494.4,813.3 C495.7,812.7 496.9,812.2 498.1,811.7 C499.3,811.2 500.6,810.6 501.8,810.1 C503.0,809.6 504.3,809.1 505.5,808.6 C506.8,808.1 508.0,807.6 509.2,807.1 C510.5,806.6 511.7,806.1 513.0,805.6 C514.2,805.2 515.5,804.7 516.7,804.2 C518.0,803.7 519.2,803.3 520.5,802.8 C521.7,802.4 523.0,801.9 524.3,801.4 C525.5,801.0 526.8,800.5 528.0,800.1 C529.3,799.7 530.6,799.2 531.8,798.8 C533.1,798.4 534.4,797.9 535.6,797.5 C536.9,797.1 538.2,796.7 539.4,796.3 C540.7,795.9 542.0,795.5 543.3,795.1 C544.5,794.6 545.8,794.3 547.1,793.9 C548.4,793.5 549.6,793.1 550.9,792.7 C552.2,792.3 553.5,791.9 554.8,791.6 C556.0,791.2 557.3,790.8 558.6,790.4 C559.9,790.1 561.2,789.7 562.5,789.4 C563.8,789.0 565.1,788.6 566.3,788.3 C567.6,787.9 568.9,787.6 570.2,787.3 C571.5,786.9 572.8,786.6 574.1,786.3 C575.4,785.9 576.7,785.6 578.0,785.3 C579.3,784.9 580.6,784.6 581.9,784.3 C583.2,784.0 584.5,783.7 585.8,783.4 C587.1,783.1 588.4,782.7 589.7,782.4 C591.0,782.1 592.3,781.8 593.6,781.6 C594.9,781.3 596.2,781.0 597.5,780.7 C598.8,780.4 600.1,780.1 601.4,779.8 C602.7,779.5 604.0,779.3 605.3,779.0 C606.7,778.7 608.0,778.4 609.3,778.2 C610.6,777.9 611.9,777.6 613.2,777.4 C614.5,777.1 615.8,776.9 617.1,776.6 C618.4,776.3 619.8,776.1 621.1,775.8 C622.4,775.6 623.7,775.4 625.0,775.1 C626.3,774.9 627.6,774.6 629.0,774.4 C630.3,774.1 631.6,773.9 632.9,773.7 C634.2,773.4 635.5,773.2 636.9,773.0 C638.2,772.8 639.5,772.5 640.8,772.3 C642.1,772.1 643.4,771.9 644.8,771.6 C646.1,771.4 647.4,771.2 648.7,771.0 C650.0,770.8 651.4,770.6 652.7,770.4 C654.0,770.2 655.3,769.9 656.6,769.7 C658.0,769.5 659.3,769.3 660.6,769.1 C661.9,768.9 663.2,768.7 664.6,768.5 C665.9,768.3 667.2,768.1 668.5,767.9 C669.9,767.8 671.2,767.6 672.5,767.4 C673.8,767.2 675.2,767.0 676.5,766.8 C677.8,766.6 679.1,766.4 680.4,766.3 C681.8,766.1 683.1,765.9 684.4,765.7 C685.7,765.5 687.1,765.3 688.4,765.2 C689.7,765.0 691.0,764.8 692.4,764.6 C693.7,764.5 695.0,764.3 696.3,764.1 C697.7,763.9 699.0,763.8 700.3,763.6 C701.6,763.4 703.0,763.3 704.3,763.1 C705.6,762.9 707.0,762.8 708.3,762.6 C709.6,762.4 710.9,762.3 712.3,762.1 C713.6,761.9 714.9,761.8 716.2,761.6 C717.6,761.4 718.9,761.3 720.2,761.1 C721.5,761.0 722.9,760.8 724.2,760.6 C725.5,760.5 726.9,760.3 728.2,760.2 C729.5,760.0 730.8,759.8 732.2,759.7 C733.5,759.5 734.8,759.4 736.1,759.2 C737.5,759.1 738.8,758.9 740.1,758.7 C741.5,758.6 742.8,758.4 744.1,758.3 C745.4,758.1 746.8,758.0 748.1,757.8 C749.4,757.7 750.8,757.5 752.1,757.4 C753.4,757.2 754.7,757.1 756.1,756.9 C757.4,756.8 758.7,756.6 760.0,756.5 C761.4,756.3 762.7,756.2 764.0,756.0 C765.4,755.9 766.7,755.7 768.0,755.6 C769.3,755.4 770.7,755.3 772.0,755.1 C773.3,755.0 774.7,754.8 776.0,754.7 C777.3,754.6 778.7,754.4 780.0,754.3 C781.3,754.1 782.6,754.0 784.0,753.8 C785.3,753.7 786.6,753.6 788.0,753.4 C789.3,753.3 790.6,753.1 791.9,753.0 C793.3,752.9 794.6,752.7 795.9,752.6 C797.3,752.5 798.6,752.3 799.9,752.2 C801.3,752.0 802.6,751.9 803.9,751.8 C805.2,751.6 806.6,751.5 807.9,751.4 C809.2,751.2 810.6,751.1 811.9,751.0 C813.2,750.8 814.6,750.7 815.9,750.6 C817.2,750.4 818.5,750.3 819.9,750.2 C821.2,750.1 822.5,749.9 823.9,749.8 C825.2,749.7 826.5,749.5 827.9,749.4 C829.2,749.3 830.5,749.2 831.8,749.0 C833.2,748.9 834.5,748.8 835.8,748.6 C837.2,748.5 838.5,748.4 839.8,748.3 C841.2,748.1 842.5,748.0 843.8,747.9 C845.2,747.8 846.5,747.7 847.8,747.5 C849.1,747.4 850.5,747.3 851.8,747.2 C853.1,747.0 854.5,746.9 855.8,746.8 C857.1,746.7 858.5,746.6 859.8,746.4 C861.1,746.3 862.5,746.2 863.8,746.1 C865.1,746.0 866.5,745.9 867.8,745.7 C869.1,745.6 870.5,745.5 871.8,745.4 C873.1,745.3 874.4,745.2 875.8,745.0 C877.1,744.9 878.4,744.8 879.8,744.7 C881.1,744.6 882.4,744.5 883.8,744.4 C885.1,744.3 886.4,744.1 887.8,744.0 C889.1,743.9 890.4,743.8 891.8,743.7 C893.1,743.6 894.4,743.5 895.8,743.4 C897.1,743.3 898.4,743.2 899.8,743.1 C901.1,742.9 902.4,742.8 903.8,742.7 C905.1,742.6 906.4,742.5 907.8,742.4 C909.1,742.3 910.4,742.2 911.7,742.1 C913.1,742.0 914.4,741.9 915.7,741.8 C917.1,741.7 918.4,741.6 919.7,741.5 C921.1,741.4 922.4,741.3 923.7,741.2 C925.1,741.1 926.4,741.0 927.7,740.9 C929.1,740.8 930.4,740.7 931.7,740.6 C933.1,740.5 934.4,740.4 935.7,740.3 C937.1,740.2 938.4,740.1 939.7,740.0 C941.1,739.9 942.4,739.8 943.7,739.7 C945.1,739.6 946.4,739.5 947.7,739.4 C949.1,739.3 950.4,739.2 951.7,739.1 C953.1,739.0 954.4,738.9 955.7,738.8 C957.1,738.8 958.4,738.7 959.7,738.6 C961.1,738.5 962.4,738.4 963.7,738.3 C965.1,738.2 966.4,738.1 967.7,738.0 C969.1,737.9 970.4,737.8 971.7,737.8 C973.1,737.7 974.4,737.6 975.7,737.5 C977.1,737.4 978.4,737.3 979.7,737.2 C981.1,737.1 982.4,737.1 983.7,737.0 C985.1,736.9 986.4,736.8 987.7,736.7 C989.1,736.6 990.4,736.5 991.8,736.5 C993.1,736.4 994.4,736.3 995.8,736.2 C997.1,736.1 998.4,736.0 999.8,736.0 C1001.1,735.9 1002.4,735.8 1003.8,735.7 C1005.1,735.6 1006.4,735.6 1007.8,735.5 C1009.1,735.4 1010.4,735.3 1011.8,735.2 C1013.1,735.2 1014.4,735.1 1015.8,735.0 C1017.1,734.9 1018.4,734.8 1019.8,734.8 C1021.1,734.7 1022.4,734.6 1023.8,734.5 C1025.1,734.5 1026.4,734.4 1027.8,734.3 C1029.1,734.2 1030.4,734.2 1031.8,734.1 C1033.1,734.0 1034.5,733.9 1035.8,733.9 C1037.1,733.8 1038.5,733.7 1039.8,733.6 C1041.1,733.6 1042.5,733.5 1043.8,733.4 C1045.1,733.4 1046.5,733.3 1047.8,733.2 C1049.1,733.1 1050.5,733.1 1051.8,733.0 C1053.1,732.9 1054.5,732.9 1055.8,732.8 C1057.1,732.7 1058.5,732.7 1059.8,732.6 C1061.1,732.5 1062.5,732.5 1063.8,732.4 C1065.2,732.3 1066.5,732.3 1067.8,732.2 C1069.2,732.1 1070.5,732.1 1071.8,732.0 C1073.2,731.9 1074.5,731.9 1075.8,731.8 C1077.2,731.7 1078.5,731.7 1079.8,731.6 C1081.2,731.5 1082.5,731.5 1083.8,731.4 C1085.2,731.3 1086.5,731.3 1087.9,731.2 C1089.2,731.2 1090.5,731.1 1091.9,731.0 C1093.2,731.0 1094.5,730.9 1095.9,730.9 C1097.2,730.8 1098.5,730.7 1099.9,730.7 C1101.2,730.6 1102.5,730.6 1103.9,730.5 C1105.2,730.4 1106.5,730.4 1107.9,730.3 C1109.2,730.3 1110.6,730.2 1111.9,730.2 C1113.2,730.1 1114.6,730.0 1115.9,730.0 C1117.2,729.9 1118.6,729.9 1119.9,729.8 C1121.2,729.8 1122.6,729.7 1123.9,729.6 C1125.2,729.6 1126.6,729.5 1127.9,729.5 C1129.2,729.4 1130.6,729.4 1131.9,729.3 C1133.3,729.3 1134.6,729.2 1135.9,729.2 C1137.3,729.1 1138.6,729.1 1139.9,729.0 C1141.3,729.0 1142.6,728.9 1143.9,728.9 C1145.3,728.8 1146.6,728.8 1147.9,728.7 C1149.3,728.7 1150.6,728.6 1152.0,728.6 C1153.3,728.5 1154.6,728.5 1156.0,728.4 C1157.3,728.4 1158.6,728.3 1160.0,728.3 C1161.3,728.2 1162.6,728.2 1164.0,728.1 C1165.3,728.1 1166.7,728.0 1168.0,728.0 C1169.3,727.9 1170.7,727.9 1172.0,727.8 C1173.3,727.8 1174.7,727.7 1176.0,727.7 C1177.3,727.7 1178.7,727.6 1180.0,727.6 C1181.3,727.5 1182.7,727.5 1184.0,727.4 C1185.4,727.4 1186.7,727.4 1188.0,727.3 C1189.4,727.3 1190.7,727.2 1192.0,727.2 C1193.4,727.1 1194.7,727.1 1196.0,727.1 C1197.4,727.0 1198.7,727.0 1200.1,726.9 C1201.4,726.9 1202.7,726.9 1204.1,726.8 C1205.4,726.8 1206.7,726.7 1208.1,726.7 C1209.4,726.7 1210.7,726.6 1212.1,726.6 C1213.4,726.5 1214.7,726.5 1216.1,726.5 C1217.4,726.4 1218.8,726.4 1220.1,726.3 C1221.4,726.3 1222.8,726.3 1224.1,726.2 C1225.4,726.2 1226.8,726.2 1228.1,726.1 C1229.4,726.1 1230.8,726.1 1232.1,726.0 C1233.5,726.0 1234.8,725.9 1236.1,725.9 C1237.5,725.9 1238.8,725.8 1240.1,725.8 C1241.5,725.8 1242.8,725.7 1244.1,725.7 C1245.5,725.7 1246.8,725.6 1248.2,725.6 C1249.5,725.6 1250.8,725.5 1252.2,725.5 C1253.5,725.5 1254.8,725.4 1256.2,725.4 C1257.5,725.4 1258.8,725.4 1260.2,725.3 C1261.5,725.3 1262.9,725.3 1264.2,725.2 C1265.5,725.2 1266.9,725.2 1268.2,725.1 C1269.5,725.1 1270.9,725.1 1272.2,725.1 C1273.5,725.0 1274.9,725.0 1276.2,725.0 C1277.6,724.9 1278.9,724.9 1280.2,724.9 C1281.6,724.9 1282.9,724.8 1284.2,724.8 C1285.6,724.8 1286.9,724.7 1288.2,724.7 C1289.6,724.7 1290.9,724.7 1292.3,724.6 C1293.6,724.6 1294.9,724.6 1296.3,724.6 C1297.6,724.5 1298.9,724.5 1300.3,724.5 C1301.6,724.5 1302.9,724.4 1304.3,724.4 C1305.6,724.4 1307.0,724.4 1308.3,724.3 C1309.6,724.3 1311.0,724.3 1312.3,724.3 C1313.6,724.2 1315.0,724.2 1316.3,724.2 C1317.6,724.2 1319.0,724.1 1320.3,724.1 C1321.7,724.1 1323.0,724.1 1324.3,724.1 C1325.7,724.0 1327.0,724.0 1328.3,724.0 C1329.7,724.0 1331.0,723.9 1332.3,723.9 C1333.7,723.9 1335.0,723.9 1336.4,723.9 C1337.7,723.8 1339.0,723.8 1340.4,723.8 C1341.7,723.8 1343.0,723.8 1344.4,723.7 C1345.7,723.7 1347.1,723.7 1348.4,723.7 C1349.7,723.7 1351.1,723.7 1352.4,723.6 C1353.7,723.6 1355.1,723.6 1356.4,723.6 C1357.7,723.6 1359.1,723.5 1360.4,723.5 C1361.8,723.5 1363.1,723.5 1364.4,723.5 C1365.8,723.5 1367.1,723.4 1368.4,723.4 C1369.8,723.4 1371.1,723.4 1372.4,723.4 C1373.8,723.4 1375.1,723.3 1376.5,723.3 C1377.8,723.3 1379.1,723.3 1380.5,723.3 C1381.8,723.3 1383.1,723.2 1384.5,723.2 C1385.8,723.2 1387.1,723.2 1388.5,723.2 C1389.8,723.2 1391.2,723.2 1392.5,723.1 C1393.8,723.1 1395.2,723.1 1396.5,723.1 C1397.8,723.1 1399.2,723.1 1400.5,723.1 C1401.9,723.1 1403.2,723.0 1404.5,723.0 C1405.9,723.0 1407.2,723.0 1408.5,723.0 C1409.9,723.0 1411.2,723.0 1412.5,723.0 C1413.9,722.9 1415.2,722.9 1416.6,722.9 C1417.9,722.9 1419.2,722.9 1420.6,722.9 C1421.9,722.9 1423.2,722.9 1424.6,722.9 C1425.9,722.8 1427.2,722.8 1428.6,722.8 C1429.9,722.8 1431.3,722.8 1432.6,722.8 C1433.9,722.8 1435.3,722.8 1436.6,722.8 C1437.9,722.7 1439.3,722.7 1440.6,722.7 C1442.0,722.7 1443.3,722.7 1444.6,722.7 C1446.0,722.7 1447.3,722.7 1448.6,722.7 C1450.0,722.7 1451.3,722.7 1452.6,722.7 C1454.0,722.6 1455.3,722.6 1456.7,722.6 C1458.0,722.6 1459.3,722.6 1460.7,722.6 C1462.0,722.6 1463.3,722.6 1464.7,722.6 C1466.0,722.6 1467.3,722.6 1468.7,722.6 C1470.0,722.6 1471.4,722.5 1472.7,722.5 C1474.0,722.5 1475.4,722.5 1476.7,722.5 C1478.0,722.5 1479.4,722.5 1480.7,722.5 C1482.1,722.5 1483.4,722.5 1484.7,722.5 C1486.1,722.5 1487.4,722.5 1488.7,722.5 C1490.1,722.5 1491.4,722.5 1492.7,722.5 C1494.1,722.4 1495.4,722.4 1496.8,722.4 C1498.1,722.4 1499.4,722.4 1500.8,722.4 C1502.1,722.4 1503.4,722.4 1504.8,722.4 C1506.1,722.4 1507.4,722.4 1508.8,722.4 C1510.1,722.4 1511.5,722.4 1512.8,722.4 C1514.1,722.4 1515.5,722.4 1516.8,722.4 C1518.1,722.4 1519.5,722.4 1520.8,722.4 C1522.2,722.4 1523.5,722.4 1524.8,722.4 C1526.2,722.4 1527.5,722.4 1528.8,722.4 C1530.2,722.3 1531.5,722.3 1532.8,722.3 C1534.2,722.3 1535.5,722.3 1536.9,722.3 C1538.2,722.3 1539.5,722.3 1540.9,722.3 C1542.2,722.3 1543.5,722.3 1544.9,722.3 C1546.2,722.3 1547.6,722.3 1548.9,722.3 C1550.2,722.3 1551.6,722.3 1552.9,722.3 C1554.2,722.3 1555.6,722.3 1556.9,722.3 C1558.2,722.3 1559.6,722.3 1560.9,722.3 C1562.3,722.3 1563.6,722.3 1564.9,722.3 C1566.3,722.3 1567.6,722.3 1568.9,722.3 C1570.3,722.3 1571.6,722.3 1572.9,722.3 C1574.3,722.3 1575.6,722.3 1577.0,722.3 C1578.3,722.3 1579.6,722.3 1581.0,722.3 C1582.3,722.3 1583.6,722.3 1585.0,722.3 C1586.3,722.3 1587.7,722.3 1589.0,722.3 C1590.3,722.3 1591.7,722.3 1593.0,722.3 C1594.3,722.3 1595.7,722.3 1597.0,722.3 C1598.3,722.3 1599.7,722.3 1601.0,722.3 C1602.4,722.3 1603.7,722.3 1605.0,722.3 C1606.4,722.3 1607.7,722.3 1609.0,722.3 C1610.4,722.3 1611.7,722.3 1613.0,722.3 C1614.4,722.3 1615.7,722.3 1617.1,722.3 C1618.4,722.3 1619.7,722.3 1621.1,722.3 C1622.4,722.3 1623.7,722.3 1625.1,722.3 C1626.4,722.3 1627.8,722.3 1629.1,722.3 C1630.4,722.3 1631.8,722.3 1633.1,722.3 C1634.4,722.3 1635.8,722.3 1637.1,722.3 C1638.4,722.3 1639.8,722.3 1641.1,722.3 C1642.5,722.3 1643.8,722.4 1645.1,722.4 C1646.5,722.4 1647.8,722.4 1649.1,722.4 C1650.5,722.4 1651.8,722.4 1653.1,722.4 C1654.5,722.4 1655.8,722.4 1657.2,722.4 C1658.5,722.4 1659.8,722.4 1661.2,722.4 C1662.5,722.4 1663.8,722.4 1665.2,722.4 C1666.5,722.4 1667.9,722.4 1669.2,722.4 C1670.5,722.4 1671.9,722.4 1673.2,722.4 C1674.5,722.4 1675.9,722.4 1677.2,722.4 C1678.5,722.4 1679.9,722.4 1681.2,722.4 C1682.6,722.4 1683.9,722.4 1685.2,722.4 C1686.6,722.4 1687.9,722.4 1689.2,722.4 C1690.6,722.4 1691.9,722.4 1693.3,722.4 C1694.6,722.4 1695.9,722.4 1697.3,722.4 C1698.6,722.4 1699.9,722.4 1701.3,722.5 C1702.6,722.5 1703.9,722.5 1705.3,722.5 C1706.6,722.5 1708.0,722.5 1709.3,722.5 C1710.6,722.5 1712.0,722.5 1713.3,722.5 C1714.6,722.5 1716.0,722.5 1717.3,722.5 C1718.6,722.5 1720.0,722.5 1721.3,722.5 C1722.7,722.5 1724.0,722.5 1725.3,722.5 C1726.7,722.5 1728.0,722.5 1729.3,722.5 C1730.7,722.5 1732.0,722.5 1733.4,722.5 C1734.7,722.5 1736.0,722.5 1737.4,722.5 C1738.7,722.5 1740.0,722.5 1741.4,722.5 C1742.7,722.5 1744.0,722.5 1745.4,722.5 C1746.7,722.5 1748.1,722.5 1749.4,722.5 C1750.7,722.5 1752.1,722.5 1753.4,722.5 C1754.7,722.5 1756.1,722.5 1757.4,722.6 C1758.7,722.6 1760.1,722.6 1761.4,722.6 C1762.8,722.6 1764.1,722.6 1765.4,722.6 C1766.8,722.6 1768.1,722.6 1769.4,722.6 C1770.8,722.6 1772.1,722.6 1773.5,722.6 C1774.8,722.6 1776.1,722.6 1777.5,722.6 C1778.8,722.6 1780.1,722.6 1781.5,722.6 C1782.8,722.6 1784.1,722.6 1785.5,722.6 C1786.8,722.6 1788.2,722.6 1789.5,722.6 C1790.8,722.6 1792.2,722.6 1793.5,722.6 C1794.8,722.6 1796.2,722.6 1797.5,722.6 C1798.9,722.6 1800.2,722.6 1801.5,722.6 C1802.9,722.6 1804.2,722.6 1805.5,722.6 C1806.9,722.6 1808.2,722.6 1809.5,722.6 C1810.9,722.6 1812.2,722.6 1813.6,722.6 C1814.9,722.6 1816.2,722.6 1817.6,722.6 C1818.9,722.6 1820.2,722.6 1821.6,722.6 C1822.9,722.6 1824.2,722.6 1825.6,722.6 C1826.9,722.6 1828.3,722.6 1829.6,722.6 C1830.9,722.6 1832.3,722.6 1833.6,722.6 C1834.9,722.6 1836.3,722.6 1837.6,722.6 C1839.0,722.6 1840.3,722.6 1841.6,722.6 C1843.0,722.6 1844.3,722.6 1845.6,722.6 C1847.0,722.6 1848.3,722.6 1849.6,722.6 C1851.0,722.6 1852.3,722.6 1853.7,722.6 C1855.0,722.6 1856.3,722.6 1857.7,722.6 C1859.0,722.6 1860.3,722.6 1861.7,722.6 C1863.0,722.6 1864.3,722.6 1865.7,722.6 C1867.0,722.6 1868.4,722.6 1869.7,722.6 C1871.0,722.6 1872.4,722.6 1873.7,722.6 C1875.0,722.6 1876.4,722.6 1877.7,722.6 C1879.1,722.6 1880.4,722.6 1881.7,722.6 C1883.1,722.6 1884.4,722.5 1885.7,722.5 C1887.1,722.5 1888.4,722.5 1889.7,722.5 C1891.1,722.5 1892.4,722.5 1893.8,722.5 C1895.1,722.5 1896.4,722.5 1897.8,722.5 C1899.1,722.5 1900.4,722.5 1901.8,722.5 C1903.1,722.5 1904.5,722.5 1905.8,722.5 C1907.1,722.5 1908.5,722.5 1909.8,722.5 C1911.1,722.5 1912.5,722.5 1913.8,722.5 C1915.1,722.5 1916.5,722.5 1917.8,722.4 C1919.2,722.4 1920.5,722.4 1921.8,722.4 C1923.2,722.4 1924.5,722.4 1925.8,722.4 C1927.2,722.4 1928.5,722.4 1929.8,722.4 C1931.2,722.4 1932.5,722.4 1933.9,722.4 C1935.2,722.4 1936.5,722.4 1937.9,722.4 C1939.2,722.3 1940.5,722.3 1941.9,722.3 C1943.2,722.3 1944.6,722.3 1945.9,722.3 C1947.2,722.3 1948.6,722.3 1949.9,722.3 C1951.2,722.3 1952.6,722.3 1953.9,722.3 C1955.2,722.3 1956.6,722.3 1957.9,722.2 C1959.3,722.2 1960.6,722.2 1961.9,722.2 C1963.3,722.2 1964.6,722.2 1965.9,722.2 C1967.3,722.2 1968.6,722.2 1969.9,722.2 C1971.3,722.2 1972.6,722.1 1974.0,722.1 C1975.3,722.1 1976.6,722.1 1978.0,722.1 C1979.3,722.1 1980.6,722.1 1982.0,722.1 C1983.3,722.1 1984.7,722.1 1986.0,722.0 C1987.3,722.0 1988.7,722.0 1990.0,722.0 C1991.3,722.0 1992.7,722.0 1994.0,722.0 C1995.3,722.0 1996.7,721.9 1998.0,721.9 C1999.4,721.9 2000.7,721.9 2002.0,721.9 C2003.4,721.9 2004.7,721.9 2006.0,721.9 C2007.4,721.8 2008.7,721.8 2010.0,721.8 C2011.4,721.8 2012.7,721.8 2014.1,721.8 C2015.4,721.8 2016.7,721.8 2018.1,721.7 C2019.4,721.7 2020.7,721.7 2022.1,721.7 C2023.4,721.7 2024.8,721.7 2026.1,721.7 C2027.4,721.6 2028.8,721.6 2030.1,721.6 C2031.4,721.6 2032.8,721.6 2034.1,721.6 C2035.4,721.5 2036.8,721.5 2038.1,721.5 C2039.5,721.5 2040.8,721.5 2042.1,721.5 C2043.5,721.4 2045.5,721.4 2046.1,721.4" fill="none" stroke="#03ff0c" stroke-width="5.0" stroke-linejoin="round" stroke-linecap="butt" opacity="1.0"/><path d="M303.0,1266.0 C303.1,1253.3 303.1,1201.7 303.4,1190.0 C303.7,1178.3 304.3,1191.8 305.0,1196.0 C305.7,1200.2 306.7,1210.0 307.5,1215.0 C308.3,1220.0 308.9,1222.5 310.0,1226.0 C311.1,1229.5 312.7,1233.5 314.0,1236.0 C315.3,1238.5 316.7,1240.7 318.0,1241.0 C319.3,1241.3 320.7,1240.5 322.0,1238.0 C323.3,1235.5 324.7,1230.7 326.0,1226.0 C327.3,1221.3 329.3,1213.3 330.0,1210.0 C330.7,1206.7 330.2,1207.2 330.5,1205.9 C330.7,1204.6 331.2,1203.3 331.5,1202.0 C331.8,1200.7 332.2,1199.4 332.5,1198.1 C332.8,1196.8 333.1,1195.5 333.5,1194.2 C333.8,1192.9 334.1,1191.6 334.4,1190.3 C334.7,1189.0 335.0,1187.7 335.3,1186.4 C335.6,1185.1 335.9,1183.7 336.2,1182.4 C336.5,1181.1 336.7,1179.8 337.0,1178.5 C337.3,1177.2 337.6,1175.9 337.8,1174.6 C338.1,1173.2 338.4,1171.9 338.6,1170.6 C338.9,1169.3 339.2,1168.0 339.4,1166.6 C339.7,1165.3 339.9,1164.0 340.2,1162.7 C340.4,1161.4 340.7,1160.0 340.9,1158.7 C341.1,1157.4 341.4,1156.1 341.6,1154.8 C341.9,1153.4 342.1,1152.1 342.3,1150.8 C342.5,1149.5 342.8,1148.2 343.0,1146.8 C343.2,1145.5 343.5,1144.2 343.7,1142.9 C343.9,1141.5 344.1,1140.2 344.4,1138.9 C344.6,1137.6 344.8,1136.2 345.0,1134.9 C345.2,1133.6 345.4,1132.3 345.7,1130.9 C345.9,1129.6 346.1,1128.3 346.3,1127.0 C346.5,1125.6 346.7,1124.3 347.0,1123.0 C347.2,1121.7 347.4,1120.3 347.6,1119.0 C347.8,1117.7 348.0,1116.3 348.2,1115.0 C348.5,1113.7 348.7,1112.4 348.9,1111.0 C349.1,1109.7 349.3,1108.4 349.5,1107.1 C349.7,1105.7 350.0,1104.4 350.2,1103.1 C350.4,1101.8 350.6,1100.4 350.8,1099.1 C351.1,1097.8 351.3,1096.5 351.5,1095.1 C351.7,1093.8 352.0,1092.5 352.2,1091.2 C352.4,1089.9 352.7,1088.5 352.9,1087.2 C353.1,1085.9 353.4,1084.6 353.6,1083.2 C353.8,1081.9 354.1,1080.6 354.3,1079.3 C354.6,1078.0 354.8,1076.6 355.1,1075.3 C355.3,1074.0 355.6,1072.7 355.8,1071.4 C356.1,1070.0 356.3,1068.7 356.6,1067.4 C356.9,1066.1 357.1,1064.8 357.4,1063.5 C357.7,1062.1 357.9,1060.8 358.2,1059.5 C358.5,1058.2 358.8,1056.9 359.1,1055.6 C359.4,1054.3 359.7,1053.0 360.0,1051.6 C360.3,1050.3 360.6,1049.0 360.9,1047.7 C361.2,1046.4 361.5,1045.1 361.8,1043.8 C362.1,1042.5 362.5,1041.2 362.8,1039.9 C363.1,1038.6 363.4,1037.3 363.8,1036.0 C364.1,1034.7 364.5,1033.4 364.8,1032.1 C365.2,1030.8 365.6,1029.5 365.9,1028.2 C366.3,1026.9 366.7,1025.6 367.0,1024.4 C367.4,1023.1 367.8,1021.8 368.2,1020.5 C368.6,1019.2 369.0,1017.9 369.4,1016.7 C369.8,1015.4 370.3,1014.1 370.7,1012.8 C371.1,1011.5 371.5,1010.3 372.0,1009.0 C372.4,1007.7 372.9,1006.5 373.3,1005.2 C373.8,1004.0 374.2,1002.7 374.7,1001.4 C375.2,1000.2 375.7,998.9 376.2,997.7 C376.7,996.4 377.2,995.2 377.7,993.9 C378.2,992.7 378.7,991.5 379.2,990.2 C379.7,989.0 380.3,987.7 380.8,986.5 C381.4,985.3 381.9,984.1 382.5,982.9 C383.1,981.6 383.6,980.4 384.2,979.2 C384.8,978.0 385.4,976.8 386.0,975.6 C386.6,974.4 387.2,973.2 387.8,972.0 C388.4,970.8 389.1,969.6 389.7,968.4 C390.4,967.3 391.0,966.1 391.7,964.9 C392.3,963.8 393.0,962.6 393.7,961.4 C394.4,960.3 395.1,959.1 395.8,958.0 C396.5,956.9 397.2,955.7 397.9,954.6 C398.7,953.5 399.4,952.4 400.2,951.2 C400.9,950.1 401.7,949.0 402.5,947.9 C403.3,946.9 404.1,945.8 404.9,944.7 C405.7,943.6 406.5,942.6 407.3,941.5 C408.2,940.5 409.0,939.4 409.9,938.4 C410.7,937.3 411.6,936.3 412.5,935.3 C413.4,934.3 414.3,933.3 415.2,932.3 C416.1,931.4 417.1,930.4 418.0,929.4 C418.9,928.5 419.9,927.5 420.9,926.6 C421.9,925.7 422.8,924.8 423.8,923.9 C424.8,923.0 425.9,922.1 426.9,921.3 C427.9,920.4 429.0,919.6 430.0,918.7 C431.1,917.9 432.2,917.1 433.3,916.3 C434.4,915.5 435.5,914.8 436.6,914.0 C437.7,913.3 438.8,912.6 440.0,911.9 C441.1,911.2 442.3,910.5 443.4,909.8 C444.6,909.1 445.8,908.5 447.0,907.9 C448.2,907.2 449.4,906.6 450.6,906.0 C451.8,905.5 453.0,904.9 454.2,904.3 C455.4,903.8 456.7,903.2 457.9,902.7 C459.1,902.2 460.4,901.7 461.6,901.2 C462.9,900.7 464.1,900.2 465.4,899.7 C466.6,899.2 467.9,898.8 469.2,898.3 C470.4,897.9 471.7,897.4 473.0,897.0 C474.2,896.6 475.5,896.2 476.8,895.8 C478.1,895.3 479.4,894.9 480.6,894.6 C481.9,894.2 483.2,893.8 484.5,893.4 C485.8,893.0 487.1,892.6 488.4,892.3 C489.7,891.9 491.0,891.6 492.2,891.2 C493.5,890.8 494.8,890.5 496.1,890.1 C497.4,889.8 498.7,889.4 500.0,889.1 C501.3,888.7 502.6,888.4 503.9,888.1 C505.2,887.7 506.5,887.4 507.8,887.0 C509.1,886.7 510.4,886.3 511.7,886.0 C513.0,885.6 514.3,885.3 515.6,884.9 C516.9,884.6 518.2,884.2 519.5,883.8 C520.8,883.5 522.1,883.1 523.4,882.8 C524.7,882.4 525.9,882.0 527.2,881.7 C528.5,881.3 529.8,881.0 531.1,880.6 C532.4,880.3 533.7,880.0 535.0,879.6 C536.3,879.3 537.6,879.0 538.9,878.6 C540.2,878.3 541.5,878.0 542.8,877.7 C544.2,877.4 545.5,877.0 546.8,876.7 C548.1,876.4 549.4,876.1 550.7,875.8 C552.0,875.5 553.3,875.2 554.6,875.0 C555.9,874.7 557.2,874.4 558.6,874.1 C559.9,873.8 561.2,873.5 562.5,873.3 C563.8,873.0 565.1,872.7 566.4,872.4 C567.8,872.2 569.1,871.9 570.4,871.6 C571.7,871.3 573.0,871.1 574.3,870.8 C575.7,870.6 577.0,870.3 578.3,870.0 C579.6,869.8 580.9,869.5 582.2,869.3 C583.6,869.0 584.9,868.8 586.2,868.5 C587.5,868.3 588.8,868.0 590.2,867.8 C591.5,867.5 592.8,867.3 594.1,867.0 C595.4,866.8 596.8,866.5 598.1,866.3 C599.4,866.1 600.7,865.8 602.1,865.6 C603.4,865.4 604.7,865.1 606.0,864.9 C607.3,864.7 608.7,864.4 610.0,864.2 C611.3,864.0 612.6,863.8 614.0,863.5 C615.3,863.3 616.6,863.1 617.9,862.9 C619.3,862.6 620.6,862.4 621.9,862.2 C623.2,862.0 624.6,861.8 625.9,861.6 C627.2,861.4 628.5,861.2 629.9,860.9 C631.2,860.7 632.5,860.5 633.9,860.3 C635.2,860.1 636.5,859.9 637.8,859.7 C639.2,859.5 640.5,859.3 641.8,859.1 C643.1,858.9 644.5,858.7 645.8,858.5 C647.1,858.3 648.5,858.1 649.8,858.0 C651.1,857.8 652.5,857.6 653.8,857.4 C655.1,857.2 656.4,857.0 657.8,856.8 C659.1,856.7 660.4,856.5 661.8,856.3 C663.1,856.1 664.4,855.9 665.8,855.8 C667.1,855.6 668.4,855.4 669.8,855.2 C671.1,855.1 672.4,854.9 673.8,854.7 C675.1,854.6 676.4,854.4 677.7,854.2 C679.1,854.1 680.4,853.9 681.7,853.7 C683.1,853.6 684.4,853.4 685.7,853.3 C687.1,853.1 688.4,852.9 689.7,852.8 C691.1,852.6 692.4,852.5 693.8,852.3 C695.1,852.2 696.4,852.0 697.8,851.9 C699.1,851.7 700.4,851.6 701.8,851.4 C703.1,851.3 704.4,851.1 705.8,851.0 C707.1,850.8 708.4,850.7 709.8,850.6 C711.1,850.4 712.4,850.3 713.8,850.1 C715.1,850.0 716.5,849.9 717.8,849.7 C719.1,849.6 720.5,849.5 721.8,849.3 C723.1,849.2 724.5,849.1 725.8,849.0 C727.1,848.8 728.5,848.7 729.8,848.6 C731.2,848.4 732.5,848.3 733.8,848.2 C735.2,848.1 736.5,848.0 737.8,847.8 C739.2,847.7 740.5,847.6 741.9,847.5 C743.2,847.4 744.5,847.3 745.9,847.1 C747.2,847.0 748.5,846.9 749.9,846.8 C751.2,846.7 752.6,846.6 753.9,846.5 C755.2,846.4 756.6,846.3 757.9,846.1 C759.3,846.0 760.6,845.9 761.9,845.8 C763.3,845.7 764.6,845.6 765.9,845.5 C767.3,845.4 768.6,845.3 770.0,845.2 C771.3,845.1 772.6,845.0 774.0,844.9 C775.3,844.8 776.7,844.8 778.0,844.7 C779.3,844.6 780.7,844.5 782.0,844.4 C783.4,844.3 784.7,844.2 786.0,844.1 C787.4,844.0 788.7,843.9 790.1,843.9 C791.4,843.8 792.7,843.7 794.1,843.6 C795.4,843.5 796.8,843.4 798.1,843.4 C799.4,843.3 800.8,843.2 802.1,843.1 C803.5,843.0 804.8,843.0 806.2,842.9 C807.5,842.8 808.8,842.7 810.2,842.7 C811.5,842.6 812.9,842.5 814.2,842.4 C815.5,842.4 816.9,842.3 818.2,842.2 C819.6,842.1 820.9,842.1 822.2,842.0 C823.6,841.9 824.9,841.9 826.3,841.8 C827.6,841.7 829.0,841.7 830.3,841.6 C831.6,841.6 833.0,841.5 834.3,841.4 C835.7,841.4 837.0,841.3 838.3,841.2 C839.7,841.2 841.0,841.1 842.4,841.1 C843.7,841.0 845.1,841.0 846.4,840.9 C847.7,840.8 849.1,840.8 850.4,840.7 C851.8,840.7 853.1,840.6 854.4,840.6 C855.8,840.5 857.1,840.5 858.5,840.4 C859.8,840.4 861.2,840.3 862.5,840.3 C863.8,840.2 865.2,840.2 866.5,840.1 C867.9,840.1 869.2,840.0 870.5,840.0 C871.9,839.9 873.2,839.9 874.6,839.8 C875.9,839.8 877.3,839.8 878.6,839.7 C879.9,839.7 881.3,839.6 882.6,839.6 C884.0,839.6 885.3,839.5 886.7,839.5 C888.0,839.4 889.3,839.4 890.7,839.4 C892.0,839.3 893.4,839.3 894.7,839.3 C896.1,839.2 897.4,839.2 898.7,839.1 C900.1,839.1 901.4,839.1 902.8,839.0 C904.1,839.0 905.5,839.0 906.8,838.9 C908.1,838.9 909.5,838.9 910.8,838.8 C912.2,838.8 913.5,838.8 914.9,838.8 C916.2,838.7 917.5,838.7 918.9,838.7 C920.2,838.6 921.6,838.6 922.9,838.6 C924.3,838.6 925.6,838.5 926.9,838.5 C928.3,838.5 929.6,838.5 931.0,838.4 C932.3,838.4 933.6,838.4 935.0,838.4 C936.3,838.3 937.7,838.3 939.0,838.3 C940.4,838.3 941.7,838.3 943.0,838.2 C944.4,838.2 945.7,838.2 947.1,838.2 C948.4,838.1 949.8,838.1 951.1,838.1 C952.4,838.1 953.8,838.1 955.1,838.1 C956.5,838.0 957.8,838.0 959.2,838.0 C960.5,838.0 961.8,838.0 963.2,837.9 C964.5,837.9 965.9,837.9 967.2,837.9 C968.6,837.9 969.9,837.9 971.2,837.9 C972.6,837.8 973.9,837.8 975.3,837.8 C976.6,837.8 978.0,837.8 979.3,837.8 C980.7,837.8 982.0,837.7 983.3,837.7 C984.7,837.7 986.0,837.7 987.4,837.7 C988.7,837.7 990.1,837.7 991.4,837.7 C992.7,837.6 994.1,837.6 995.4,837.6 C996.8,837.6 998.1,837.6 999.5,837.6 C1000.8,837.6 1002.1,837.6 1003.5,837.6 C1004.8,837.6 1006.2,837.5 1007.5,837.5 C1008.9,837.5 1010.2,837.5 1011.5,837.5 C1012.9,837.5 1014.2,837.5 1015.6,837.5 C1016.9,837.5 1018.3,837.5 1019.6,837.5 C1020.9,837.5 1022.3,837.4 1023.6,837.4 C1025.0,837.4 1026.3,837.4 1027.7,837.4 C1029.0,837.4 1030.3,837.4 1031.7,837.4 C1033.0,837.4 1034.4,837.4 1035.7,837.4 C1037.1,837.4 1038.4,837.4 1039.7,837.4 C1041.1,837.4 1042.4,837.3 1043.8,837.3 C1045.1,837.3 1046.5,837.3 1047.8,837.3 C1049.1,837.3 1050.5,837.3 1051.8,837.3 C1053.2,837.3 1054.5,837.3 1055.9,837.3 C1057.2,837.3 1058.5,837.3 1059.9,837.3 C1061.2,837.3 1062.6,837.3 1063.9,837.2 C1065.3,837.2 1066.6,837.2 1067.9,837.2 C1069.3,837.2 1070.6,837.2 1072.0,837.2 C1073.3,837.2 1074.7,837.2 1076.0,837.2 C1077.3,837.2 1078.7,837.2 1080.0,837.2 C1081.4,837.2 1082.7,837.2 1084.1,837.2 C1085.4,837.2 1086.7,837.1 1088.1,837.1 C1089.4,837.1 1090.8,837.1 1092.1,837.1 C1093.5,837.1 1094.8,837.1 1096.1,837.1 C1097.5,837.1 1098.8,837.1 1100.2,837.1 C1101.5,837.1 1102.9,837.1 1104.2,837.1 C1105.5,837.1 1106.9,837.0 1108.2,837.0 C1109.6,837.0 1110.9,837.0 1112.3,837.0 C1113.6,837.0 1114.9,837.0 1116.3,837.0 C1117.6,837.0 1119.0,837.0 1120.3,837.0 C1121.7,836.9 1123.0,836.9 1124.3,836.9 C1125.7,836.9 1127.0,836.9 1128.4,836.9 C1129.7,836.9 1131.1,836.9 1132.4,836.9 C1133.7,836.9 1135.1,836.8 1136.4,836.8 C1137.8,836.8 1139.1,836.8 1140.5,836.8 C1141.8,836.8 1143.2,836.8 1144.5,836.8 C1145.8,836.7 1147.2,836.7 1148.5,836.7 C1149.9,836.7 1151.2,836.7 1152.6,836.7 C1153.9,836.7 1155.2,836.7 1156.6,836.6 C1157.9,836.6 1159.3,836.6 1160.6,836.6 C1162.0,836.6 1163.3,836.6 1164.6,836.5 C1166.0,836.5 1167.3,836.5 1168.7,836.5 C1170.0,836.5 1171.4,836.5 1172.7,836.4 C1174.0,836.4 1175.4,836.4 1176.7,836.4 C1178.1,836.4 1179.4,836.3 1180.8,836.3 C1182.1,836.3 1183.4,836.3 1184.8,836.3 C1186.1,836.2 1187.5,836.2 1188.8,836.2 C1190.2,836.2 1191.5,836.1 1192.8,836.1 C1194.2,836.1 1195.5,836.1 1196.9,836.0 C1198.2,836.0 1199.6,836.0 1200.9,836.0 C1202.2,835.9 1201.7,836.4 1204.9,835.9 C1208.1,835.4 1215.0,833.7 1220.0,833.0 C1225.0,832.3 1223.3,831.8 1235.0,831.5 C1246.7,831.2 1274.2,831.0 1290.0,831.5 C1305.8,832.0 1311.7,833.4 1330.0,834.5 C1348.3,835.6 1371.7,837.0 1400.0,838.0 C1428.3,839.0 1450.0,839.6 1500.0,840.3 C1550.0,841.0 1633.3,841.4 1700.0,842.0 C1766.7,842.6 1842.3,843.4 1900.0,844.0 C1957.7,844.6 2021.7,845.2 2046.0,845.5" fill="none" stroke="#00b0f0" stroke-width="5.0" stroke-linejoin="round" stroke-linecap="butt" opacity="1.0"/><path d="M303.0,1266.0 C303.1,1254.2 303.1,1206.0 303.4,1195.0 C303.7,1184.0 304.3,1195.5 305.0,1200.0 C305.7,1204.5 306.5,1216.3 307.5,1222.0 C308.5,1227.7 309.8,1230.5 311.0,1234.0 C312.2,1237.5 313.7,1241.0 315.0,1243.0 C316.3,1245.0 317.7,1246.5 319.0,1246.0 C320.3,1245.5 321.7,1243.0 323.0,1240.0 C324.3,1237.0 325.7,1232.7 327.0,1228.0 C328.3,1223.3 330.2,1215.4 331.0,1212.0 C331.8,1208.6 331.5,1209.1 331.8,1207.8 C332.0,1206.4 332.4,1205.2 332.7,1203.8 C333.1,1202.5 333.4,1201.2 333.7,1199.9 C334.0,1198.6 334.3,1197.3 334.6,1196.0 C334.9,1194.7 335.2,1193.4 335.5,1192.1 C335.8,1190.8 336.1,1189.5 336.4,1188.2 C336.7,1186.9 337.0,1185.6 337.3,1184.2 C337.6,1182.9 337.8,1181.6 338.1,1180.3 C338.4,1179.0 338.7,1177.7 338.9,1176.4 C339.2,1175.0 339.5,1173.7 339.7,1172.4 C340.0,1171.1 340.2,1169.8 340.5,1168.5 C340.8,1167.2 341.0,1165.8 341.3,1164.5 C341.5,1163.2 341.8,1161.9 342.0,1160.6 C342.3,1159.2 342.5,1157.9 342.7,1156.6 C343.0,1155.3 343.2,1154.0 343.5,1152.6 C343.7,1151.3 343.9,1150.0 344.2,1148.7 C344.4,1147.4 344.7,1146.0 344.9,1144.7 C345.1,1143.4 345.4,1142.1 345.6,1140.8 C345.8,1139.4 346.1,1138.1 346.3,1136.8 C346.5,1135.5 346.8,1134.2 347.0,1132.8 C347.2,1131.5 347.5,1130.2 347.7,1128.9 C347.9,1127.5 348.2,1126.2 348.4,1124.9 C348.6,1123.6 348.9,1122.3 349.1,1120.9 C349.3,1119.6 349.6,1118.3 349.8,1117.0 C350.0,1115.7 350.3,1114.3 350.5,1113.0 C350.7,1111.7 351.0,1110.4 351.2,1109.1 C351.4,1107.7 351.7,1106.4 351.9,1105.1 C352.2,1103.8 352.4,1102.5 352.6,1101.1 C352.9,1099.8 353.1,1098.5 353.4,1097.2 C353.6,1095.9 353.9,1094.5 354.1,1093.2 C354.4,1091.9 354.6,1090.6 354.9,1089.3 C355.2,1088.0 355.4,1086.6 355.7,1085.3 C355.9,1084.0 356.2,1082.7 356.5,1081.4 C356.8,1080.1 357.0,1078.8 357.3,1077.4 C357.6,1076.1 357.9,1074.8 358.1,1073.5 C358.4,1072.2 358.7,1070.9 359.0,1069.6 C359.3,1068.3 359.6,1067.0 359.9,1065.6 C360.2,1064.3 360.5,1063.0 360.8,1061.7 C361.1,1060.4 361.4,1059.1 361.7,1057.8 C362.0,1056.5 362.3,1055.2 362.7,1053.9 C363.0,1052.6 363.3,1051.3 363.6,1050.0 C364.0,1048.7 364.3,1047.4 364.7,1046.1 C365.0,1044.8 365.4,1043.5 365.7,1042.2 C366.1,1040.9 366.4,1039.6 366.8,1038.3 C367.2,1037.0 367.5,1035.8 367.9,1034.5 C368.3,1033.2 368.7,1031.9 369.1,1030.6 C369.5,1029.3 369.9,1028.0 370.3,1026.8 C370.7,1025.5 371.1,1024.2 371.5,1022.9 C371.9,1021.7 372.3,1020.4 372.8,1019.1 C373.2,1017.9 373.6,1016.6 374.1,1015.3 C374.5,1014.1 375.0,1012.8 375.4,1011.5 C375.9,1010.3 376.4,1009.0 376.8,1007.8 C377.3,1006.5 377.8,1005.3 378.3,1004.0 C378.8,1002.8 379.3,1001.5 379.8,1000.3 C380.3,999.0 380.8,997.8 381.3,996.6 C381.9,995.3 382.4,994.1 382.9,992.9 C383.5,991.6 384.0,990.4 384.6,989.2 C385.2,988.0 385.7,986.8 386.3,985.5 C386.9,984.3 387.5,983.1 388.1,981.9 C388.6,980.7 389.2,979.5 389.9,978.3 C390.5,977.1 391.1,975.9 391.7,974.8 C392.4,973.6 393.0,972.4 393.6,971.2 C394.3,970.0 395.0,968.9 395.6,967.7 C396.3,966.6 397.0,965.4 397.7,964.3 C398.4,963.1 399.1,962.0 399.8,960.8 C400.5,959.7 401.2,958.6 402.0,957.4 C402.7,956.3 403.4,955.2 404.2,954.1 C405.0,953.0 405.7,951.9 406.5,950.8 C407.3,949.7 408.1,948.6 408.9,947.6 C409.7,946.5 410.5,945.4 411.4,944.4 C412.2,943.3 413.0,942.3 413.9,941.2 C414.8,940.2 415.6,939.2 416.5,938.2 C417.4,937.2 418.3,936.2 419.2,935.2 C420.1,934.2 421.0,933.2 422.0,932.3 C422.9,931.3 423.9,930.4 424.8,929.4 C425.8,928.5 426.8,927.6 427.8,926.7 C428.7,925.8 429.8,924.9 430.8,924.0 C431.8,923.1 432.8,922.3 433.9,921.4 C434.9,920.6 436.0,919.8 437.0,919.0 C438.1,918.2 439.2,917.4 440.3,916.6 C441.4,915.8 442.5,915.1 443.6,914.4 C444.8,913.6 445.9,912.9 447.1,912.2 C448.2,911.5 449.4,910.9 450.5,910.2 C451.7,909.6 452.9,908.9 454.1,908.3 C455.3,907.7 456.4,907.0 457.6,906.4 C458.8,905.8 460.0,905.2 461.2,904.6 C462.5,904.0 463.7,903.5 464.9,902.9 C466.1,902.3 467.3,901.7 468.5,901.2 C469.7,900.6 470.9,900.0 472.2,899.5 C473.4,898.9 474.6,898.3 475.8,897.8 C477.0,897.2 478.2,896.6 479.5,896.1 C480.7,895.5 481.9,894.9 483.1,894.4 C484.3,893.8 485.5,893.2 486.8,892.7 C488.0,892.1 489.2,891.6 490.4,891.0 C491.7,890.5 492.9,889.9 494.1,889.4 C495.3,888.9 496.6,888.3 497.8,887.8 C499.0,887.3 500.3,886.8 501.5,886.3 C502.8,885.8 504.0,885.3 505.3,884.8 C506.5,884.3 507.8,883.8 509.0,883.3 C510.3,882.9 511.5,882.4 512.8,881.9 C514.1,881.5 515.3,881.0 516.6,880.6 C517.9,880.2 519.1,879.7 520.4,879.3 C521.7,878.9 522.9,878.5 524.2,878.0 C525.5,877.6 526.8,877.2 528.1,876.8 C529.3,876.4 530.6,876.1 531.9,875.7 C533.2,875.3 534.5,874.9 535.8,874.5 C537.1,874.2 538.4,873.8 539.7,873.5 C540.9,873.1 542.2,872.8 543.5,872.4 C544.8,872.1 546.1,871.7 547.4,871.4 C548.7,871.1 550.0,870.7 551.3,870.4 C552.6,870.1 553.9,869.8 555.3,869.5 C556.6,869.2 557.9,868.8 559.2,868.5 C560.5,868.2 561.8,867.9 563.1,867.7 C564.4,867.4 565.7,867.1 567.0,866.8 C568.3,866.5 569.6,866.2 571.0,866.0 C572.3,865.7 573.6,865.4 574.9,865.1 C576.2,864.9 577.5,864.6 578.8,864.3 C580.2,864.1 581.5,863.8 582.8,863.6 C584.1,863.3 585.4,863.1 586.7,862.8 C588.1,862.5 589.4,862.3 590.7,862.1 C592.0,861.8 593.3,861.6 594.7,861.3 C596.0,861.1 597.3,860.8 598.6,860.6 C599.9,860.4 601.3,860.1 602.6,859.9 C603.9,859.7 605.2,859.4 606.5,859.2 C607.9,859.0 609.2,858.7 610.5,858.5 C611.8,858.3 613.2,858.1 614.5,857.8 C615.8,857.6 617.1,857.4 618.5,857.2 C619.8,857.0 621.1,856.7 622.4,856.5 C623.7,856.3 625.1,856.1 626.4,855.9 C627.7,855.7 629.0,855.5 630.4,855.3 C631.7,855.1 633.0,854.8 634.3,854.6 C635.7,854.4 637.0,854.2 638.3,854.0 C639.7,853.8 641.0,853.6 642.3,853.4 C643.6,853.2 645.0,853.1 646.3,852.9 C647.6,852.7 648.9,852.5 650.3,852.3 C651.6,852.1 652.9,851.9 654.3,851.7 C655.6,851.5 656.9,851.4 658.2,851.2 C659.6,851.0 660.9,850.8 662.2,850.6 C663.6,850.5 664.9,850.3 666.2,850.1 C667.6,849.9 668.9,849.8 670.2,849.6 C671.5,849.4 672.9,849.2 674.2,849.1 C675.5,848.9 676.9,848.7 678.2,848.6 C679.5,848.4 680.9,848.2 682.2,848.1 C683.5,847.9 684.9,847.8 686.2,847.6 C687.5,847.4 688.9,847.3 690.2,847.1 C691.5,847.0 692.9,846.8 694.2,846.7 C695.5,846.5 696.9,846.4 698.2,846.2 C699.5,846.1 700.9,845.9 702.2,845.8 C703.5,845.6 704.9,845.5 706.2,845.4 C707.5,845.2 708.9,845.1 710.2,844.9 C711.5,844.8 712.9,844.7 714.2,844.5 C715.5,844.4 716.9,844.2 718.2,844.1 C719.5,844.0 720.9,843.9 722.2,843.7 C723.5,843.6 724.9,843.5 726.2,843.3 C727.6,843.2 728.9,843.1 730.2,843.0 C731.6,842.8 732.9,842.7 734.2,842.6 C735.6,842.5 736.9,842.3 738.2,842.2 C739.6,842.1 740.9,842.0 742.2,841.9 C743.6,841.8 744.9,841.6 746.3,841.5 C747.6,841.4 748.9,841.3 750.3,841.2 C751.6,841.1 752.9,841.0 754.3,840.9 C755.6,840.8 757.0,840.7 758.3,840.5 C759.6,840.4 761.0,840.3 762.3,840.2 C763.6,840.1 765.0,840.0 766.3,839.9 C767.7,839.8 769.0,839.7 770.3,839.6 C771.7,839.5 773.0,839.4 774.3,839.4 C775.7,839.3 777.0,839.2 778.4,839.1 C779.7,839.0 781.0,838.9 782.4,838.8 C783.7,838.7 785.1,838.6 786.4,838.5 C787.7,838.4 789.1,838.4 790.4,838.3 C791.7,838.2 793.1,838.1 794.4,838.0 C795.8,837.9 797.1,837.9 798.4,837.8 C799.8,837.7 801.1,837.6 802.5,837.5 C803.8,837.5 805.1,837.4 806.5,837.3 C807.8,837.2 809.2,837.2 810.5,837.1 C811.8,837.0 813.2,836.9 814.5,836.9 C815.9,836.8 817.2,836.7 818.5,836.6 C819.9,836.6 821.2,836.5 822.6,836.4 C823.9,836.4 825.2,836.3 826.6,836.2 C827.9,836.2 829.3,836.1 830.6,836.0 C831.9,836.0 833.3,835.9 834.6,835.9 C836.0,835.8 837.3,835.7 838.6,835.7 C840.0,835.6 841.3,835.6 842.7,835.5 C844.0,835.4 845.3,835.4 846.7,835.3 C848.0,835.3 849.4,835.2 850.7,835.2 C852.0,835.1 853.4,835.1 854.7,835.0 C856.1,835.0 857.4,834.9 858.7,834.9 C860.1,834.8 861.4,834.8 862.8,834.7 C864.1,834.7 865.4,834.6 866.8,834.6 C868.1,834.5 869.5,834.5 870.8,834.4 C872.2,834.4 873.5,834.3 874.8,834.3 C876.2,834.2 877.5,834.2 878.9,834.2 C880.2,834.1 881.5,834.1 882.9,834.0 C884.2,834.0 885.6,834.0 886.9,833.9 C888.2,833.9 889.6,833.8 890.9,833.8 C892.3,833.8 893.6,833.7 894.9,833.7 C896.3,833.7 897.6,833.6 899.0,833.6 C900.3,833.6 901.7,833.5 903.0,833.5 C904.3,833.5 905.7,833.4 907.0,833.4 C908.4,833.4 909.7,833.3 911.0,833.3 C912.4,833.3 913.7,833.2 915.1,833.2 C916.4,833.2 917.8,833.1 919.1,833.1 C920.4,833.1 921.8,833.1 923.1,833.0 C924.5,833.0 925.8,833.0 927.1,833.0 C928.5,832.9 929.8,832.9 931.2,832.9 C932.5,832.9 933.8,832.8 935.2,832.8 C936.5,832.8 937.9,832.8 939.2,832.7 C940.6,832.7 941.9,832.7 943.2,832.7 C944.6,832.7 945.9,832.6 947.3,832.6 C948.6,832.6 949.9,832.6 951.3,832.6 C952.6,832.5 954.0,832.5 955.3,832.5 C956.7,832.5 958.0,832.5 959.3,832.4 C960.7,832.4 962.0,832.4 963.4,832.4 C964.7,832.4 966.0,832.4 967.4,832.3 C968.7,832.3 970.1,832.3 971.4,832.3 C972.7,832.3 974.1,832.3 975.4,832.3 C976.8,832.2 978.1,832.2 979.5,832.2 C980.8,832.2 982.1,832.2 983.5,832.2 C984.8,832.2 986.2,832.1 987.5,832.1 C988.8,832.1 990.2,832.1 991.5,832.1 C992.9,832.1 994.2,832.1 995.6,832.1 C996.9,832.1 998.2,832.0 999.6,832.0 C1000.9,832.0 1002.3,832.0 1003.6,832.0 C1004.9,832.0 1006.3,832.0 1007.6,832.0 C1009.0,832.0 1010.3,832.0 1011.7,831.9 C1013.0,831.9 1014.3,831.9 1015.7,831.9 C1017.0,831.9 1018.4,831.9 1019.7,831.9 C1021.0,831.9 1022.4,831.9 1023.7,831.9 C1025.1,831.9 1026.4,831.9 1027.8,831.8 C1029.1,831.8 1030.4,831.8 1031.8,831.8 C1033.1,831.8 1034.5,831.8 1035.8,831.8 C1037.1,831.8 1038.5,831.8 1039.8,831.8 C1041.2,831.8 1042.5,831.8 1043.9,831.8 C1045.2,831.8 1046.5,831.7 1047.9,831.7 C1049.2,831.7 1050.6,831.7 1051.9,831.7 C1053.2,831.7 1054.6,831.7 1055.9,831.7 C1057.3,831.7 1058.6,831.7 1060.0,831.7 C1061.3,831.7 1062.6,831.7 1064.0,831.7 C1065.3,831.7 1066.7,831.6 1068.0,831.6 C1069.3,831.6 1070.7,831.6 1072.0,831.6 C1073.4,831.6 1074.7,831.6 1076.1,831.6 C1077.4,831.6 1078.7,831.6 1080.1,831.6 C1081.4,831.6 1082.8,831.6 1084.1,831.6 C1085.4,831.6 1086.8,831.5 1088.1,831.5 C1089.5,831.5 1090.8,831.5 1092.1,831.5 C1093.5,831.5 1094.8,831.5 1096.2,831.5 C1097.5,831.5 1098.9,831.5 1100.2,831.5 C1101.5,831.5 1102.9,831.5 1104.2,831.5 C1105.6,831.4 1106.9,831.4 1108.2,831.4 C1109.6,831.4 1110.9,831.4 1112.3,831.4 C1113.6,831.4 1115.0,831.4 1116.3,831.4 C1117.6,831.4 1119.0,831.4 1120.3,831.3 C1121.7,831.3 1123.0,831.3 1124.3,831.3 C1125.7,831.3 1127.0,831.3 1128.4,831.3 C1129.7,831.3 1131.1,831.3 1132.4,831.2 C1133.7,831.2 1135.1,831.2 1136.4,831.2 C1137.8,831.2 1139.1,831.2 1140.4,831.2 C1141.8,831.2 1143.1,831.1 1144.5,831.1 C1145.8,831.1 1147.2,831.1 1148.5,831.1 C1149.8,831.1 1151.2,831.1 1152.5,831.0 C1153.9,831.0 1155.2,831.0 1156.5,831.0 C1157.9,831.0 1159.2,831.0 1160.6,830.9 C1161.9,830.9 1163.3,830.9 1164.6,830.9 C1165.9,830.9 1167.3,830.9 1168.6,830.8 C1170.0,830.8 1171.3,830.8 1172.6,830.8 C1174.0,830.8 1175.3,830.7 1176.7,830.7 C1178.0,830.7 1179.4,830.7 1180.7,830.7 C1182.0,830.6 1183.4,830.6 1184.7,830.6 C1186.1,830.6 1187.4,830.5 1188.7,830.5 C1190.1,830.5 1191.4,830.5 1192.8,830.4 C1194.1,830.4 1195.4,830.4 1196.8,830.4 C1198.1,830.3 1199.5,830.3 1200.8,830.3 C1202.2,830.3 1201.6,829.9 1204.8,830.2 C1208.0,830.5 1214.1,831.1 1220.0,832.0 C1225.9,832.9 1226.7,834.8 1240.0,835.5 C1253.3,836.2 1256.7,836.1 1300.0,836.3 C1343.3,836.5 1433.3,836.5 1500.0,836.8 C1566.7,837.1 1633.3,837.5 1700.0,838.0 C1766.7,838.5 1842.3,839.5 1900.0,840.0 C1957.7,840.5 2021.7,840.8 2046.0,841.0" fill="none" stroke="#ff0202" stroke-width="5.0" stroke-linejoin="round" stroke-linecap="butt" opacity="1.0"/><path d="M303.0,1266.0 C303.1,1253.3 303.1,1201.7 303.4,1190.0 C303.7,1178.3 304.4,1189.7 305.0,1196.0 C305.6,1202.3 306.2,1221.0 307.0,1228.0 C307.8,1235.0 308.8,1235.7 310.0,1238.0 C311.2,1240.3 312.5,1241.2 314.0,1242.0 C315.5,1242.8 317.5,1243.8 319.0,1243.0 C320.5,1242.2 321.5,1240.2 323.0,1237.0 C324.5,1233.8 326.2,1227.4 328.0,1224.0 C329.8,1220.6 332.6,1219.1 333.7,1216.7 C334.8,1214.3 334.3,1211.6 334.6,1209.8 C334.9,1207.9 335.2,1207.1 335.5,1205.8 C335.8,1204.5 336.1,1203.2 336.3,1201.9 C336.6,1200.6 336.9,1199.3 337.2,1198.0 C337.4,1196.6 337.7,1195.3 338.0,1194.0 C338.3,1192.7 338.5,1191.4 338.8,1190.1 C339.1,1188.8 339.3,1187.4 339.6,1186.1 C339.9,1184.8 340.1,1183.5 340.4,1182.2 C340.6,1180.9 340.9,1179.5 341.2,1178.2 C341.4,1176.9 341.7,1175.6 341.9,1174.3 C342.2,1173.0 342.5,1171.7 342.7,1170.3 C343.0,1169.0 343.2,1167.7 343.5,1166.4 C343.7,1165.1 344.0,1163.8 344.3,1162.4 C344.5,1161.1 344.8,1159.8 345.0,1158.5 C345.3,1157.2 345.6,1155.9 345.8,1154.5 C346.1,1153.2 346.3,1151.9 346.6,1150.6 C346.9,1149.3 347.1,1148.0 347.4,1146.7 C347.7,1145.3 347.9,1144.0 348.2,1142.7 C348.5,1141.4 348.8,1140.1 349.0,1138.8 C349.3,1137.5 349.6,1136.1 349.9,1134.8 C350.1,1133.5 350.4,1132.2 350.7,1130.9 C351.0,1129.6 351.3,1128.3 351.6,1127.0 C351.9,1125.7 352.2,1124.4 352.5,1123.0 C352.7,1121.7 353.1,1120.4 353.4,1119.1 C353.7,1117.8 354.0,1116.5 354.3,1115.2 C354.6,1113.9 354.9,1112.6 355.2,1111.3 C355.5,1110.0 355.9,1108.7 356.2,1107.4 C356.5,1106.1 356.9,1104.8 357.2,1103.5 C357.5,1102.2 357.9,1100.9 358.2,1099.6 C358.6,1098.3 358.9,1097.0 359.3,1095.7 C359.7,1094.4 360.0,1093.1 360.4,1091.9 C360.8,1090.6 361.1,1089.3 361.5,1088.0 C361.9,1086.7 362.3,1085.4 362.7,1084.1 C363.1,1082.9 363.5,1081.6 363.9,1080.3 C364.3,1079.0 364.7,1077.8 365.1,1076.5 C365.6,1075.2 366.0,1073.9 366.4,1072.7 C366.9,1071.4 367.3,1070.1 367.8,1068.9 C368.2,1067.6 368.7,1066.3 369.1,1065.1 C369.6,1063.8 370.1,1062.6 370.6,1061.3 C371.0,1060.1 371.5,1058.8 372.0,1057.6 C372.5,1056.3 373.0,1055.1 373.6,1053.9 C374.1,1052.6 374.6,1051.4 375.1,1050.2 C375.7,1048.9 376.2,1047.7 376.8,1046.5 C377.3,1045.3 377.9,1044.0 378.4,1042.8 C379.0,1041.6 379.6,1040.4 380.2,1039.2 C380.8,1038.0 381.4,1036.8 382.0,1035.6 C382.6,1034.4 383.2,1033.2 383.8,1032.0 C384.5,1030.8 385.1,1029.7 385.8,1028.5 C386.4,1027.3 387.1,1026.2 387.8,1025.0 C388.4,1023.8 389.1,1022.7 389.8,1021.5 C390.5,1020.4 391.2,1019.2 391.9,1018.1 C392.6,1017.0 393.4,1015.8 394.1,1014.7 C394.8,1013.6 395.6,1012.5 396.3,1011.4 C397.1,1010.3 397.8,1009.2 398.6,1008.1 C399.4,1007.0 400.2,1005.9 401.0,1004.8 C401.8,1003.7 402.6,1002.7 403.4,1001.6 C404.2,1000.5 405.1,999.5 405.9,998.4 C406.7,997.4 407.6,996.4 408.4,995.3 C409.3,994.3 410.2,993.3 411.1,992.3 C411.9,991.3 412.8,990.3 413.7,989.3 C414.6,988.3 415.6,987.3 416.5,986.3 C417.4,985.3 418.3,984.4 419.3,983.4 C420.2,982.5 421.2,981.5 422.1,980.6 C423.1,979.7 424.1,978.7 425.1,977.8 C426.0,976.9 427.0,976.0 428.0,975.1 C429.1,974.2 430.1,973.4 431.1,972.5 C432.1,971.6 433.2,970.8 434.2,969.9 C435.2,969.1 436.3,968.3 437.4,967.5 C438.4,966.6 439.5,965.8 440.6,965.1 C441.7,964.3 442.8,963.5 443.9,962.7 C445.0,962.0 446.1,961.2 447.2,960.5 C448.3,959.7 449.4,959.0 450.6,958.3 C451.7,957.6 452.9,956.9 454.0,956.2 C455.2,955.5 456.3,954.8 457.5,954.1 C458.6,953.5 459.8,952.8 461.0,952.1 C462.1,951.5 463.3,950.8 464.5,950.2 C465.6,949.5 466.8,948.9 468.0,948.3 C469.2,947.6 470.4,947.0 471.6,946.4 C472.7,945.7 473.9,945.1 475.1,944.5 C476.3,943.9 477.5,943.3 478.7,942.7 C479.9,942.1 481.1,941.5 482.3,940.9 C483.5,940.3 484.7,939.7 485.9,939.1 C487.2,938.6 488.4,938.0 489.6,937.4 C490.8,936.9 492.0,936.3 493.3,935.8 C494.5,935.2 495.7,934.7 496.9,934.2 C498.2,933.6 499.4,933.1 500.7,932.6 C501.9,932.1 503.1,931.6 504.4,931.1 C505.6,930.6 506.9,930.1 508.1,929.6 C509.4,929.1 510.6,928.7 511.9,928.2 C513.1,927.7 514.4,927.3 515.7,926.8 C516.9,926.4 518.2,925.9 519.5,925.5 C520.7,925.0 522.0,924.6 523.3,924.2 C524.5,923.8 525.8,923.3 527.1,922.9 C528.4,922.5 529.7,922.1 530.9,921.7 C532.2,921.3 533.5,920.9 534.8,920.5 C536.1,920.1 537.3,919.8 538.6,919.4 C539.9,919.0 541.2,918.6 542.5,918.3 C543.8,917.9 545.1,917.5 546.4,917.2 C547.7,916.8 549.0,916.4 550.2,916.1 C551.5,915.7 552.8,915.4 554.1,915.1 C555.4,914.7 556.7,914.4 558.0,914.0 C559.3,913.7 560.6,913.4 561.9,913.1 C563.2,912.7 564.5,912.4 565.8,912.1 C567.1,911.8 568.4,911.4 569.7,911.1 C571.0,910.8 572.4,910.5 573.7,910.2 C575.0,909.9 576.3,909.6 577.6,909.3 C578.9,909.0 580.2,908.7 581.5,908.4 C582.8,908.1 584.1,907.8 585.4,907.5 C586.7,907.2 588.0,906.9 589.3,906.6 C590.7,906.3 592.0,906.0 593.3,905.7 C594.6,905.4 595.9,905.2 597.2,904.9 C598.5,904.6 599.8,904.3 601.1,904.1 C602.5,903.8 603.8,903.5 605.1,903.2 C606.4,903.0 607.7,902.7 609.0,902.4 C610.3,902.2 611.7,901.9 613.0,901.7 C614.3,901.4 615.6,901.1 616.9,900.9 C618.2,900.6 619.6,900.4 620.9,900.1 C622.2,899.9 623.5,899.6 624.8,899.4 C626.1,899.1 627.5,898.9 628.8,898.6 C630.1,898.4 631.4,898.2 632.7,897.9 C634.1,897.7 635.4,897.5 636.7,897.2 C638.0,897.0 639.3,896.8 640.7,896.5 C642.0,896.3 643.3,896.1 644.6,895.9 C646.0,895.6 647.3,895.4 648.6,895.2 C649.9,895.0 651.3,894.8 652.6,894.5 C653.9,894.3 655.2,894.1 656.5,893.9 C657.9,893.7 659.2,893.5 660.5,893.3 C661.8,893.1 663.2,892.9 664.5,892.7 C665.8,892.5 667.2,892.3 668.5,892.1 C669.8,891.9 671.1,891.7 672.5,891.5 C673.8,891.3 675.1,891.1 676.4,890.9 C677.8,890.7 679.1,890.5 680.4,890.3 C681.8,890.2 683.1,890.0 684.4,889.8 C685.7,889.6 687.1,889.4 688.4,889.3 C689.7,889.1 691.1,888.9 692.4,888.7 C693.7,888.6 695.1,888.4 696.4,888.2 C697.7,888.1 699.0,887.9 700.4,887.7 C701.7,887.6 703.0,887.4 704.4,887.2 C705.7,887.1 707.0,886.9 708.4,886.7 C709.7,886.6 711.0,886.4 712.4,886.3 C713.7,886.1 715.0,886.0 716.4,885.8 C717.7,885.7 719.0,885.5 720.4,885.4 C721.7,885.2 723.0,885.1 724.4,884.9 C725.7,884.8 727.0,884.7 728.4,884.5 C729.7,884.4 731.0,884.2 732.4,884.1 C733.7,884.0 735.0,883.8 736.4,883.7 C737.7,883.6 739.0,883.4 740.4,883.3 C741.7,883.2 743.0,883.0 744.4,882.9 C745.7,882.8 747.0,882.7 748.4,882.5 C749.7,882.4 751.0,882.3 752.4,882.2 C753.7,882.1 755.1,881.9 756.4,881.8 C757.7,881.7 759.1,881.6 760.4,881.5 C761.7,881.4 763.1,881.2 764.4,881.1 C765.7,881.0 767.1,880.9 768.4,880.8 C769.8,880.7 771.1,880.6 772.4,880.5 C773.8,880.4 775.1,880.3 776.4,880.2 C777.8,880.1 779.1,880.0 780.5,879.9 C781.8,879.8 783.1,879.7 784.5,879.6 C785.8,879.5 787.1,879.4 788.5,879.3 C789.8,879.2 791.2,879.1 792.5,879.0 C793.8,878.9 795.2,878.9 796.5,878.8 C797.9,878.7 799.2,878.6 800.5,878.5 C801.9,878.4 803.2,878.3 804.5,878.3 C805.9,878.2 807.2,878.1 808.6,878.0 C809.9,877.9 811.2,877.9 812.6,877.8 C813.9,877.7 815.3,877.6 816.6,877.5 C817.9,877.5 819.3,877.4 820.6,877.3 C822.0,877.3 823.3,877.2 824.6,877.1 C826.0,877.0 827.3,877.0 828.6,876.9 C830.0,876.8 831.3,876.8 832.7,876.7 C834.0,876.6 835.3,876.6 836.7,876.5 C838.0,876.5 839.4,876.4 840.7,876.3 C842.0,876.3 843.4,876.2 844.7,876.2 C846.1,876.1 847.4,876.0 848.7,876.0 C850.1,875.9 851.4,875.9 852.8,875.8 C854.1,875.8 855.4,875.7 856.8,875.7 C858.1,875.6 859.5,875.5 860.8,875.5 C862.1,875.4 863.5,875.4 864.8,875.4 C866.2,875.3 867.5,875.3 868.9,875.2 C870.2,875.2 871.5,875.1 872.9,875.1 C874.2,875.0 875.6,875.0 876.9,874.9 C878.2,874.9 879.6,874.9 880.9,874.8 C882.3,874.8 883.6,874.7 884.9,874.7 C886.3,874.7 887.6,874.6 889.0,874.6 C890.3,874.5 891.6,874.5 893.0,874.5 C894.3,874.4 895.7,874.4 897.0,874.4 C898.3,874.3 899.7,874.3 901.0,874.3 C902.4,874.2 903.7,874.2 905.0,874.2 C906.4,874.1 907.7,874.1 909.1,874.1 C910.4,874.0 911.8,874.0 913.1,874.0 C914.4,873.9 915.8,873.9 917.1,873.9 C918.5,873.9 919.8,873.8 921.1,873.8 C922.5,873.8 923.8,873.8 925.2,873.7 C926.5,873.7 927.8,873.7 929.2,873.7 C930.5,873.6 931.9,873.6 933.2,873.6 C934.5,873.6 935.9,873.5 937.2,873.5 C938.6,873.5 939.9,873.5 941.3,873.5 C942.6,873.4 943.9,873.4 945.3,873.4 C946.6,873.4 948.0,873.4 949.3,873.3 C950.6,873.3 952.0,873.3 953.3,873.3 C954.7,873.3 956.0,873.3 957.3,873.2 C958.7,873.2 960.0,873.2 961.4,873.2 C962.7,873.2 964.1,873.2 965.4,873.2 C966.7,873.1 968.1,873.1 969.4,873.1 C970.8,873.1 972.1,873.1 973.4,873.1 C974.8,873.1 976.1,873.0 977.5,873.0 C978.8,873.0 980.1,873.0 981.5,873.0 C982.8,873.0 984.2,873.0 985.5,873.0 C986.9,872.9 988.2,872.9 989.5,872.9 C990.9,872.9 992.2,872.9 993.6,872.9 C994.9,872.9 996.2,872.9 997.6,872.9 C998.9,872.8 1000.3,872.8 1001.6,872.8 C1002.9,872.8 1004.3,872.8 1005.6,872.8 C1007.0,872.8 1008.3,872.8 1009.7,872.8 C1011.0,872.8 1012.3,872.8 1013.7,872.7 C1015.0,872.7 1016.4,872.7 1017.7,872.7 C1019.0,872.7 1020.4,872.7 1021.7,872.7 C1023.1,872.7 1024.4,872.7 1025.7,872.7 C1027.1,872.7 1028.4,872.7 1029.8,872.6 C1031.1,872.6 1032.5,872.6 1033.8,872.6 C1035.1,872.6 1036.5,872.6 1037.8,872.6 C1039.2,872.6 1040.5,872.6 1041.8,872.6 C1043.2,872.6 1044.5,872.6 1045.9,872.5 C1047.2,872.5 1048.5,872.5 1049.9,872.5 C1051.2,872.5 1052.6,872.5 1053.9,872.5 C1055.3,872.5 1056.6,872.5 1057.9,872.5 C1059.3,872.5 1060.6,872.5 1062.0,872.4 C1063.3,872.4 1064.6,872.4 1066.0,872.4 C1067.3,872.4 1068.7,872.4 1070.0,872.4 C1071.4,872.4 1072.7,872.4 1074.0,872.4 C1075.4,872.3 1076.7,872.3 1078.1,872.3 C1079.4,872.3 1080.7,872.3 1082.1,872.3 C1083.4,872.3 1084.8,872.3 1086.1,872.3 C1087.4,872.2 1088.8,872.2 1090.1,872.2 C1091.5,872.2 1092.8,872.2 1094.2,872.2 C1095.5,872.2 1096.8,872.2 1098.2,872.1 C1099.5,872.1 1100.9,872.1 1102.2,872.1 C1103.5,872.1 1104.9,872.1 1106.2,872.1 C1107.6,872.0 1108.9,872.0 1110.2,872.0 C1111.6,872.0 1112.9,872.0 1114.3,872.0 C1115.6,871.9 1117.0,871.9 1118.3,871.9 C1119.6,871.9 1121.0,871.9 1122.3,871.9 C1123.7,871.8 1125.0,871.8 1126.3,871.8 C1127.7,871.8 1129.0,871.8 1130.4,871.7 C1131.7,871.7 1133.0,871.7 1134.4,871.7 C1135.7,871.7 1137.1,871.6 1138.4,871.6 C1139.7,871.6 1141.1,871.6 1142.4,871.5 C1143.8,871.5 1145.1,871.5 1146.5,871.5 C1147.8,871.4 1149.1,871.4 1150.5,871.4 C1151.8,871.4 1153.2,871.3 1154.5,871.3 C1155.8,871.3 1157.2,871.2 1158.5,871.2 C1159.9,871.2 1161.2,871.2 1162.5,871.1 C1163.9,871.1 1165.2,871.1 1166.6,871.0 C1167.9,871.0 1169.2,871.0 1170.6,870.9 C1171.9,870.9 1173.3,870.9 1174.6,870.8 C1176.0,870.8 1177.3,870.7 1178.6,870.7 C1180.0,870.7 1181.3,870.6 1182.7,870.6 C1184.0,870.6 1185.3,870.5 1186.7,870.5 C1188.0,870.4 1189.4,870.4 1190.7,870.4 C1192.0,870.3 1193.4,870.3 1194.7,870.2 C1196.1,870.2 1197.4,870.1 1198.7,870.1 C1200.1,870.0 1201.4,870.0 1202.8,869.9 C1204.1,869.9 1204.6,870.3 1206.8,869.8 C1209.0,869.3 1210.5,867.4 1216.0,867.0 C1221.5,866.6 1226.0,867.2 1240.0,867.5 C1254.0,867.8 1290.0,868.3 1300.0,868.5" fill="none" stroke="#008000" stroke-width="5.0" stroke-linejoin="round" stroke-linecap="butt" opacity="1.0"/><line x1="1299" y1="866.3" x2="2046" y2="866.3" stroke="#98cc98" stroke-width="5"/><line x1="1299" y1="871.3" x2="2046" y2="871.3" stroke="#68b468" stroke-width="5"/><text x="237" y="71.8" text-anchor="end" font-size="61" font-family="'DejaVu Sans', 'Liberation Sans', sans-serif" fill="#000">25</text><text x="237" y="317.3" text-anchor="end" font-size="61" font-family="'DejaVu Sans', 'Liberation Sans', sans-serif" fill="#000">20</text><text x="237" y="557.3" text-anchor="end" font-size="61" font-family="'DejaVu Sans', 'Liberation Sans', sans-serif" fill="#000">15</text><text x="237" y="802.3" text-anchor="end" font-size="61" font-family="'DejaVu Sans', 'Liberation Sans', sans-serif" fill="#000">10</text><text x="237" y="1043.3" text-anchor="end" font-size="61" font-family="'DejaVu Sans', 'Liberation Sans', sans-serif" fill="#000">5</text><text x="237" y="1289.3" text-anchor="end" font-size="61" font-family="'DejaVu Sans', 'Liberation Sans', sans-serif" fill="#000">0</text><text x="303.0" y="1384.5" text-anchor="middle" font-size="61" font-family="'DejaVu Sans', 'Liberation Sans', sans-serif" fill="#000">0</text><text x="628.1" y="1384.5" text-anchor="middle" font-size="61" font-family="'DejaVu Sans', 'Liberation Sans', sans-serif" fill="#000">500</text><text x="948.4" y="1384.5" text-anchor="middle" font-size="61" font-family="'DejaVu Sans', 'Liberation Sans', sans-serif" fill="#000">1000</text><text x="1273.5" y="1384.5" text-anchor="middle" font-size="61" font-family="'DejaVu Sans', 'Liberation Sans', sans-serif" fill="#000">1500</text><text x="1593.5" y="1384.5" text-anchor="middle" font-size="61" font-family="'DejaVu Sans', 'Liberation Sans', sans-serif" fill="#000">2000</text><text x="1918.6" y="1384.5" text-anchor="middle" font-size="61" font-family="'DejaVu Sans', 'Liberation Sans', sans-serif" fill="#000">2500</text><text x="2243.6" y="1384.5" text-anchor="middle" font-size="61" font-family="'DejaVu Sans', 'Liberation Sans', sans-serif" fill="#000">3000</text><text x="1273.2" y="1499.4" text-anchor="middle" font-size="76.8" font-family="'Liberation Sans', 'DejaVu Sans', sans-serif" font-weight="bold" fill="#000" textLength="279" lengthAdjust="spacingAndGlyphs">Time (s)</text><text transform="translate(90,829.5) rotate(-90)" x="0" y="0" font-size="76.8" font-family="'Liberation Sans', 'DejaVu Sans', sans-serif" font-weight="bold" fill="#000" textLength="79" lengthAdjust="spacingAndGlyphs">M</text><text transform="translate(90,738) rotate(-90)" x="0" y="0" font-size="76.8" font-family="'Liberation Sans', 'DejaVu Sans', sans-serif" font-weight="bold" fill="#000" textLength="243" lengthAdjust="spacingAndGlyphs">(dN.m)</text><line x1="875.5" y1="1071.5" x2="1040.8" y2="1071.5" stroke="#000" stroke-width="5.4"/><text x="1057.0" y="1094.3" font-size="61" font-family="'DejaVu Sans', 'Liberation Sans', sans-serif" fill="#000" textLength="106" lengthAdjust="spacingAndGlyphs">REF</text><line x1="1330.6" y1="1071.5" x2="1495.8" y2="1071.5" stroke="#03ff0c" stroke-width="5.4"/><text x="1512.0" y="1094.3" font-size="61" font-family="'DejaVu Sans', 'Liberation Sans', sans-serif" fill="#000">Gly5</text><line x1="1791.3" y1="1071.5" x2="1956.2" y2="1071.5" stroke="#00b0f0" stroke-width="5.4"/><text x="1967.6" y="1094.3" font-size="61" font-family="'DejaVu Sans', 'Liberation Sans', sans-serif" fill="#000">Gly10</text><line x1="875.5" y1="1181.6" x2="1040.8" y2="1181.6" stroke="#ff0202" stroke-width="5.4"/><text x="1052.7" y="1204" font-size="61" font-family="'DejaVu Sans', 'Liberation Sans', sans-serif" fill="#000">Gly15</text><line x1="1330.6" y1="1181.6" x2="1495.8" y2="1181.6" stroke="#008000" stroke-width="5.4"/><text x="1512.0" y="1204" font-size="61" font-family="'DejaVu Sans', 'Liberation Sans', sans-serif" fill="#000">Gly20</text></svg>
</body></html>
